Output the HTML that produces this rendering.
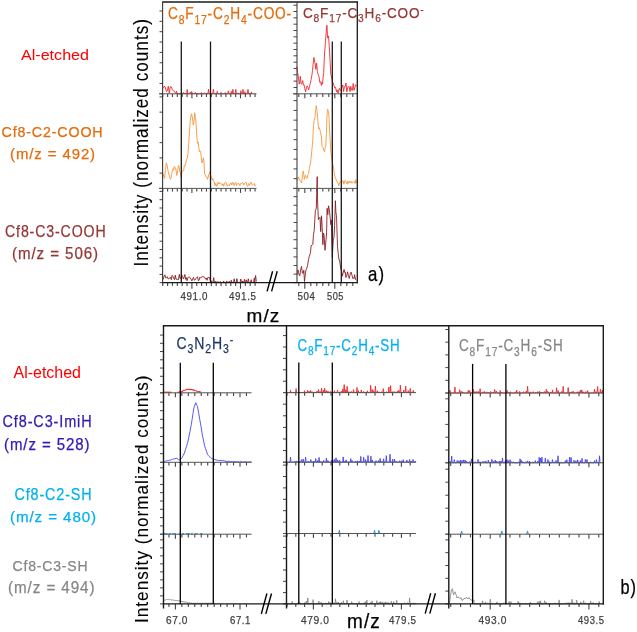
<!DOCTYPE html>
<html><head><meta charset="utf-8"><style>
html,body{margin:0;padding:0;background:#fff;width:637px;height:632px;overflow:hidden}
svg{display:block;font-family:"Liberation Sans",sans-serif;will-change:transform}
</style></head><body>
<svg width="637" height="632" viewBox="0 0 637 632" font-family="Liberation Sans, sans-serif">
<path d="M163.3,88.3 L164.3,86.1 L165.3,87.1 L166.3,91.5 L167.3,90.9 L168.3,86.3 L169.3,93.3 L170.3,86.7 L171.3,86.9 L172.3,89.6 L173.3,90.9 L174.3,91.1 L176.0,93.8 L176.6,91.3 L177.2,93.8 L177.9,93.8 L178.9,93.8 L179.9,93.8 L180.9,93.8 L181.9,93.8 L182.9,93.8 L183.5,92.4 L184.1,93.8 L184.8,93.8 L185.4,92.9 L186.0,93.8 L186.6,93.8 L187.2,89.5 L187.8,93.8 L188.6,93.8 L189.6,93.8 L190.2,92.2 L190.8,93.8 L191.1,93.8 L191.7,91.4 L192.3,93.8 L192.7,93.8 L193.3,93.0 L193.9,93.8 L194.8,93.8 L195.4,92.4 L196.0,93.8 L196.9,93.8 L197.9,93.8 L198.9,93.8 L199.9,93.8 L200.9,93.8 L201.5,92.5 L202.1,93.8 L202.8,93.8 L203.8,93.8 L204.4,92.8 L205.0,93.8 L205.3,93.8 L205.9,92.9 L206.5,93.8 L206.9,93.8 L207.9,93.8 L208.5,89.3 L209.1,93.8 L209.8,93.8 L210.8,93.8 L211.8,93.8 L212.8,93.8 L213.4,89.3 L214.0,93.8 L214.5,93.8 L215.1,93.0 L215.7,93.8 L216.7,93.8 L217.3,91.3 L217.9,93.8 L218.4,93.8 L219.4,93.8 L220.4,93.8 L221.0,92.4 L221.6,93.8 L222.6,93.8 L223.6,93.8 L224.6,93.8 L225.2,92.6 L225.8,93.8 L226.7,93.8 L227.7,93.8 L228.3,90.9 L228.9,93.8 L229.7,93.8 L230.7,93.8 L231.3,91.4 L231.9,93.8 L232.3,93.8 L232.9,89.3 L233.5,93.8 L234.2,93.8 L235.2,93.8 L235.8,89.3 L236.4,93.8 L236.7,93.8 L237.3,92.9 L237.9,93.8 L238.3,93.8 L239.3,93.8 L240.3,93.8 L240.9,90.7 L241.5,93.8 L242.4,93.8 L243.0,89.4 L243.6,93.8 L244.3,93.8 L244.9,91.8 L245.5,93.8 L246.4,93.8 L247.4,93.8 L248.0,89.3 L248.6,93.8 L248.9,93.8 L249.9,93.8 L250.9,93.8 L251.5,91.9 L252.1,93.8" fill="none" stroke="#f0282d" stroke-width="0.9" stroke-linejoin="round"/>
<path d="M163.0,173.5 L163.8,176.9 L164.6,178.4 L165.4,169.5 L166.3,162.8 L167.2,165.5 L168.0,170.7 L168.8,174.1 L169.5,176.0 L170.3,179.3 L171.0,178.7 L171.7,174.4 L172.4,170.5 L173.1,168.6 L173.7,170.3 L174.3,166.3 L175.0,167.5 L175.6,168.0 L176.2,171.0 L176.8,175.5 L177.7,170.5 L178.5,165.4 L179.2,167.3 L179.8,172.0 L180.4,172.5 L181.1,177.2 L181.8,172.0 L182.4,171.7 L183.0,170.4 L183.7,170.7 L184.3,165.2 L185.0,165.8 L185.7,163.0 L186.3,161.0 L186.9,158.3 L187.5,158.1 L188.1,151.8 L188.8,142.6 L189.5,131.3 L190.1,122.7 L190.7,117.0 L191.6,113.8 L192.4,118.0 L193.3,125.1 L194.0,121.7 L194.7,112.7 L195.3,117.3 L195.9,121.3 L196.8,135.7 L197.5,143.3 L198.2,142.1 L198.8,147.6 L199.4,152.0 L200.0,150.9 L200.6,151.9 L201.3,157.6 L202.0,163.0 L202.7,160.8 L203.4,157.8 L204.0,162.2 L204.6,173.8 L205.4,175.0 L206.3,177.0 L206.9,176.8 L207.5,179.4 L208.1,177.3 L208.9,174.5 L209.8,171.8 L210.4,174.5 L211.0,176.3 L211.6,177.8 L212.2,179.9 L212.9,178.7 L213.5,181.3 L214.2,181.6 L215.0,185.7 L215.8,183.3 L216.6,186.3 L217.4,185.0 L218.2,182.2 L219.0,184.0 L219.8,182.7 L220.6,183.4 L221.4,183.7 L222.2,185.5 L223.0,183.8 L223.8,186.2 L224.6,182.8 L225.4,182.1 L226.2,182.6 L227.0,186.2 L227.8,184.9 L228.6,185.0 L229.4,185.9 L230.2,183.6 L231.0,182.8 L231.8,185.0 L232.6,182.5 L233.4,182.8 L234.2,185.8 L235.0,182.9 L235.8,182.4 L236.6,185.5 L237.4,183.8 L238.2,183.5 L239.0,183.7 L239.8,186.0 L240.6,183.4 L241.4,183.6 L242.2,182.7 L243.0,182.8 L243.8,184.9 L244.6,183.2 L245.4,182.5 L246.2,182.4 L247.0,185.7 L247.8,186.3 L248.6,183.5 L249.4,185.4 L250.2,183.9 L251.0,182.1 L251.8,184.7 L252.6,185.3 L253.4,184.3 L254.2,183.4 L255.0,185.9 L255.8,184.7" fill="none" stroke="#f7963c" stroke-width="0.9" stroke-linejoin="round"/>
<path d="M163.3,279.3 L164.1,275.9 L164.9,274.8 L165.7,277.8 L166.5,277.8 L167.3,276.7 L168.1,278.8 L168.9,278.6 L169.7,278.1 L170.5,277.2 L171.3,279.7 L172.1,275.3 L172.9,276.4 L173.7,278.3 L174.5,279.7 L175.3,275.2 L176.1,279.3 L176.9,279.3 L177.7,279.4 L178.5,279.7 L179.3,274.3 L180.1,278.4 L180.9,278.2 L181.7,274.8 L182.5,276.2 L183.3,279.0 L184.1,277.4 L184.9,274.5 L185.5,279.3 L186.3,277.6 L187.1,280.7 L187.9,277.6 L188.7,277.3 L189.5,277.1 L190.3,277.8 L191.1,279.3 L191.9,280.9 L192.7,278.6 L193.5,277.4 L194.3,280.2 L195.1,279.9 L195.9,278.5 L196.7,277.5 L197.5,276.7 L198.3,280.6 L199.1,280.3 L199.9,277.2 L200.7,278.0 L201.5,277.6 L202.3,276.2 L203.1,276.5 L203.9,277.0 L204.7,277.3 L205.5,279.2 L206.3,278.0 L207.1,280.3 L207.9,277.4 L208.7,277.4 L209.5,277.6 L211.0,282.6 L211.7,280.8 L212.4,282.6 L213.0,282.6 L213.7,277.6 L214.4,282.6 L215.1,282.6 L215.8,281.2 L216.5,282.6 L217.3,282.6 L218.0,281.4 L218.7,282.6 L219.6,282.6 L220.3,281.5 L221.0,282.6 L221.9,282.6 L222.9,282.6 L223.6,281.0 L224.3,282.6 L225.1,282.6 L226.1,282.6 L226.8,281.1 L227.5,282.6 L228.5,282.6 L229.2,281.3 L229.9,282.6 L230.6,282.6 L231.3,280.2 L232.0,282.6 L232.5,282.6 L233.5,282.6 L234.2,278.8 L234.9,282.6 L235.2,282.6 L236.2,282.6 L236.9,278.7 L237.6,282.6 L238.1,282.6 L239.1,282.6 L240.1,282.6 L240.8,279.0 L241.5,282.6 L242.0,282.6 L242.7,281.0 L243.4,282.6 L243.8,282.6 L244.5,279.3 L245.2,282.6 L245.6,282.6 L246.3,279.9 L247.0,282.6 L247.6,282.6 L248.3,278.8 L249.0,282.6 L249.5,282.6 L250.5,282.6 L251.2,279.7 L251.9,282.6 L252.6,282.6 L253.6,282.6 L254.3,277.9 L255.0,282.6 L254.5,282.4 L255.6,275.5 L256.3,281.5" fill="none" stroke="#8b1c22" stroke-width="0.9" stroke-linejoin="round"/>
<path d="M296.9,66.4 L297.6,72.6 L298.4,76.6 L299.2,84.1 L299.8,81.7 L300.3,76.3 L301.0,83.4 L301.6,84.3 L302.1,83.0 L302.7,80.6 L303.4,85.0 L304.0,84.5 L304.8,88.3 L305.6,92.0 L306.4,87.8 L307.1,86.0 L307.9,87.6 L308.7,89.9 L309.5,86.3 L310.3,83.5 L311.1,79.4 L311.9,75.2 L312.5,70.5 L313.1,64.2 L313.9,57.5 L314.7,62.1 L315.2,63.9 L315.8,69.3 L316.6,63.1 L317.4,71.6 L318.2,74.7 L319.0,76.7 L319.8,82.4 L320.6,81.6 L321.4,85.5 L322.0,82.2 L322.6,84.1 L323.1,77.0 L323.7,72.5 L324.5,54.0 L325.5,41.6 L326.1,33.1 L326.9,25.2 L327.7,38.1 L328.5,35.9 L329.3,46.9 L330.1,61.2 L330.8,74.3 L331.8,78.4 L332.5,82.1 L333.2,82.7 L334.0,85.6 L334.8,88.0 L335.6,87.4 L336.4,91.7 L337.2,89.7 L338.0,93.2 L338.8,90.0 L339.5,88.2 L340.3,90.5 L341.1,90.9 L342.0,87.1 L342.8,85.0 L343.6,91.5 L344.4,86.7 L345.2,86.7 L346.0,83.0 L346.8,91.9 L347.6,87.8 L348.4,86.0 L349.2,86.8 L350.0,91.6 L350.8,86.4 L351.6,90.1 L352.4,90.3 L353.2,83.5 L354.0,90.3 L354.8,87.8 L355.6,84.8 L356.4,85.2" fill="none" stroke="#f0282d" stroke-width="0.9" stroke-linejoin="round"/>
<path d="M296.9,181.1 L297.6,180.1 L298.4,176.9 L299.2,178.6 L300.0,180.5 L300.8,181.5 L301.6,183.0 L302.4,176.2 L303.2,170.9 L303.8,174.1 L304.3,179.4 L305.0,176.5 L305.6,175.3 L306.4,177.9 L307.1,178.5 L307.9,174.7 L308.7,173.6 L309.5,166.9 L310.3,164.5 L311.1,158.1 L311.9,149.8 L312.7,141.4 L313.5,125.5 L314.2,120.6 L315.0,117.4 L315.6,110.2 L316.3,105.6 L316.9,110.3 L317.4,113.9 L317.9,121.6 L318.5,128.8 L319.1,127.6 L319.8,129.3 L320.6,132.6 L321.4,136.9 L322.1,146.6 L322.9,147.5 L323.7,150.2 L324.5,151.7 L325.1,147.9 L325.8,145.5 L326.4,133.7 L326.9,117.3 L327.4,109.5 L328.0,109.6 L329.0,116.8 L329.6,131.2 L330.1,139.1 L330.9,152.5 L331.6,156.9 L332.4,162.7 L333.2,166.0 L333.9,170.3 L334.6,175.2 L335.3,178.3 L335.9,178.5 L336.6,181.1 L337.2,181.6 L338.0,183.2 L338.8,185.7 L339.6,182.7 L340.3,181.7 L341.5,182.9 L342.3,181.0 L343.1,180.6 L343.9,184.2 L344.7,180.8 L345.5,180.4 L346.3,182.3 L347.1,184.2 L347.9,181.1 L348.7,183.3 L349.5,181.3 L350.3,182.6 L351.1,181.3 L351.9,183.2 L352.7,182.1 L353.5,181.9 L354.3,181.3 L355.1,183.5 L355.9,179.7 L356.7,183.1" fill="none" stroke="#f7963c" stroke-width="0.9" stroke-linejoin="round"/>
<path d="M296.7,274.8 L297.4,272.7 L298.0,269.9 L298.6,272.7 L299.2,275.3 L299.8,275.8 L300.6,270.1 L301.5,266.4 L302.4,273.0 L303.1,273.6 L303.8,270.3 L304.5,281.5 L305.5,272.2 L306.2,269.5 L306.9,267.9 L307.6,265.4 L308.5,259.6 L309.3,256.2 L309.9,254.8 L310.5,252.4 L311.1,245.7 L312.0,245.4 L312.8,244.4 L313.5,234.3 L314.2,230.6 L314.8,219.8 L315.4,210.6 L316.3,208.2 L317.2,176.6 L317.7,205.0 L318.4,219.6 L319.4,217.8 L320.0,217.2 L320.7,231.6 L321.5,215.8 L322.2,227.8 L322.9,244.7 L323.5,233.0 L324.1,235.6 L325.0,250.3 L326.0,239.8 L326.6,232.9 L327.1,208.3 L327.8,214.7 L328.5,205.8 L329.3,209.7 L330.2,217.7 L330.8,224.6 L331.3,220.1 L332.3,257.4 L333.3,239.0 L334.0,237.5 L334.6,225.4 L335.4,200.7 L335.9,212.6 L336.5,215.5 L337.5,246.7 L338.2,253.3 L338.9,259.5 L339.5,259.8 L340.1,264.2 L340.7,268.2 L341.5,270.9 L342.4,276.2 L343.2,272.7 L344.1,269.4 L344.7,272.5 L345.3,272.1 L345.9,277.5 L346.8,275.3 L347.6,271.8 L348.5,276.5 L349.3,278.5 L349.9,275.5 L350.5,273.1 L351.1,272.1 L352.0,275.1 L352.8,278.4 L353.4,277.8 L354.0,278.7 L354.6,274.7 L355.5,279.5 L356.3,280.0" fill="none" stroke="#8b1c22" stroke-width="0.9" stroke-linejoin="round"/>
<line x1="159.50" y1="93.80" x2="163.00" y2="93.80" stroke="#444444" stroke-width="1.0"/>
<line x1="159.50" y1="83.45" x2="163.00" y2="83.45" stroke="#444444" stroke-width="1.0"/>
<line x1="159.50" y1="73.10" x2="163.00" y2="73.10" stroke="#444444" stroke-width="1.0"/>
<line x1="159.50" y1="62.75" x2="163.00" y2="62.75" stroke="#444444" stroke-width="1.0"/>
<line x1="159.50" y1="52.40" x2="163.00" y2="52.40" stroke="#444444" stroke-width="1.0"/>
<line x1="159.50" y1="42.05" x2="163.00" y2="42.05" stroke="#444444" stroke-width="1.0"/>
<line x1="159.50" y1="31.70" x2="163.00" y2="31.70" stroke="#444444" stroke-width="1.0"/>
<line x1="159.50" y1="21.35" x2="163.00" y2="21.35" stroke="#444444" stroke-width="1.0"/>
<line x1="159.50" y1="11.00" x2="163.00" y2="11.00" stroke="#444444" stroke-width="1.0"/>
<line x1="159.50" y1="188.40" x2="163.00" y2="188.40" stroke="#444444" stroke-width="1.0"/>
<line x1="159.50" y1="173.15" x2="163.00" y2="173.15" stroke="#444444" stroke-width="1.0"/>
<line x1="159.50" y1="157.90" x2="163.00" y2="157.90" stroke="#444444" stroke-width="1.0"/>
<line x1="159.50" y1="142.65" x2="163.00" y2="142.65" stroke="#444444" stroke-width="1.0"/>
<line x1="159.50" y1="127.40" x2="163.00" y2="127.40" stroke="#444444" stroke-width="1.0"/>
<line x1="159.50" y1="112.15" x2="163.00" y2="112.15" stroke="#444444" stroke-width="1.0"/>
<line x1="159.50" y1="96.90" x2="163.00" y2="96.90" stroke="#444444" stroke-width="1.0"/>
<line x1="159.50" y1="282.70" x2="163.00" y2="282.70" stroke="#444444" stroke-width="1.0"/>
<line x1="159.50" y1="274.40" x2="163.00" y2="274.40" stroke="#444444" stroke-width="1.0"/>
<line x1="159.50" y1="266.10" x2="163.00" y2="266.10" stroke="#444444" stroke-width="1.0"/>
<line x1="159.50" y1="257.80" x2="163.00" y2="257.80" stroke="#444444" stroke-width="1.0"/>
<line x1="159.50" y1="249.50" x2="163.00" y2="249.50" stroke="#444444" stroke-width="1.0"/>
<line x1="159.50" y1="241.20" x2="163.00" y2="241.20" stroke="#444444" stroke-width="1.0"/>
<line x1="159.50" y1="232.90" x2="163.00" y2="232.90" stroke="#444444" stroke-width="1.0"/>
<line x1="159.50" y1="224.60" x2="163.00" y2="224.60" stroke="#444444" stroke-width="1.0"/>
<line x1="159.50" y1="216.30" x2="163.00" y2="216.30" stroke="#444444" stroke-width="1.0"/>
<line x1="159.50" y1="208.00" x2="163.00" y2="208.00" stroke="#444444" stroke-width="1.0"/>
<line x1="159.50" y1="199.70" x2="163.00" y2="199.70" stroke="#444444" stroke-width="1.0"/>
<line x1="159.50" y1="191.40" x2="163.00" y2="191.40" stroke="#444444" stroke-width="1.0"/>
<line x1="293.50" y1="93.80" x2="297.00" y2="93.80" stroke="#444444" stroke-width="1.0"/>
<line x1="293.50" y1="87.47" x2="297.00" y2="87.47" stroke="#444444" stroke-width="1.0"/>
<line x1="293.50" y1="81.14" x2="297.00" y2="81.14" stroke="#444444" stroke-width="1.0"/>
<line x1="293.50" y1="74.81" x2="297.00" y2="74.81" stroke="#444444" stroke-width="1.0"/>
<line x1="293.50" y1="68.48" x2="297.00" y2="68.48" stroke="#444444" stroke-width="1.0"/>
<line x1="293.50" y1="62.15" x2="297.00" y2="62.15" stroke="#444444" stroke-width="1.0"/>
<line x1="293.50" y1="55.82" x2="297.00" y2="55.82" stroke="#444444" stroke-width="1.0"/>
<line x1="293.50" y1="49.49" x2="297.00" y2="49.49" stroke="#444444" stroke-width="1.0"/>
<line x1="293.50" y1="43.16" x2="297.00" y2="43.16" stroke="#444444" stroke-width="1.0"/>
<line x1="293.50" y1="36.83" x2="297.00" y2="36.83" stroke="#444444" stroke-width="1.0"/>
<line x1="293.50" y1="30.50" x2="297.00" y2="30.50" stroke="#444444" stroke-width="1.0"/>
<line x1="293.50" y1="24.17" x2="297.00" y2="24.17" stroke="#444444" stroke-width="1.0"/>
<line x1="293.50" y1="17.84" x2="297.00" y2="17.84" stroke="#444444" stroke-width="1.0"/>
<line x1="293.50" y1="11.51" x2="297.00" y2="11.51" stroke="#444444" stroke-width="1.0"/>
<line x1="293.50" y1="5.18" x2="297.00" y2="5.18" stroke="#444444" stroke-width="1.0"/>
<line x1="293.50" y1="188.40" x2="297.00" y2="188.40" stroke="#444444" stroke-width="1.0"/>
<line x1="293.50" y1="178.65" x2="297.00" y2="178.65" stroke="#444444" stroke-width="1.0"/>
<line x1="293.50" y1="168.90" x2="297.00" y2="168.90" stroke="#444444" stroke-width="1.0"/>
<line x1="293.50" y1="159.15" x2="297.00" y2="159.15" stroke="#444444" stroke-width="1.0"/>
<line x1="293.50" y1="149.40" x2="297.00" y2="149.40" stroke="#444444" stroke-width="1.0"/>
<line x1="293.50" y1="139.65" x2="297.00" y2="139.65" stroke="#444444" stroke-width="1.0"/>
<line x1="293.50" y1="129.90" x2="297.00" y2="129.90" stroke="#444444" stroke-width="1.0"/>
<line x1="293.50" y1="120.15" x2="297.00" y2="120.15" stroke="#444444" stroke-width="1.0"/>
<line x1="293.50" y1="110.40" x2="297.00" y2="110.40" stroke="#444444" stroke-width="1.0"/>
<line x1="293.50" y1="100.65" x2="297.00" y2="100.65" stroke="#444444" stroke-width="1.0"/>
<line x1="293.50" y1="282.70" x2="297.00" y2="282.70" stroke="#444444" stroke-width="1.0"/>
<line x1="293.50" y1="274.10" x2="297.00" y2="274.10" stroke="#444444" stroke-width="1.0"/>
<line x1="293.50" y1="265.50" x2="297.00" y2="265.50" stroke="#444444" stroke-width="1.0"/>
<line x1="293.50" y1="256.90" x2="297.00" y2="256.90" stroke="#444444" stroke-width="1.0"/>
<line x1="293.50" y1="248.30" x2="297.00" y2="248.30" stroke="#444444" stroke-width="1.0"/>
<line x1="293.50" y1="239.70" x2="297.00" y2="239.70" stroke="#444444" stroke-width="1.0"/>
<line x1="293.50" y1="231.10" x2="297.00" y2="231.10" stroke="#444444" stroke-width="1.0"/>
<line x1="293.50" y1="222.50" x2="297.00" y2="222.50" stroke="#444444" stroke-width="1.0"/>
<line x1="293.50" y1="213.90" x2="297.00" y2="213.90" stroke="#444444" stroke-width="1.0"/>
<line x1="293.50" y1="205.30" x2="297.00" y2="205.30" stroke="#444444" stroke-width="1.0"/>
<line x1="293.50" y1="196.70" x2="297.00" y2="196.70" stroke="#444444" stroke-width="1.0"/>
<line x1="162.74" y1="93.80" x2="162.74" y2="97.00" stroke="#444444" stroke-width="1.1"/>
<line x1="167.60" y1="93.80" x2="167.60" y2="97.00" stroke="#444444" stroke-width="1.1"/>
<line x1="172.46" y1="93.80" x2="172.46" y2="97.00" stroke="#444444" stroke-width="1.1"/>
<line x1="177.32" y1="93.80" x2="177.32" y2="97.00" stroke="#444444" stroke-width="1.1"/>
<line x1="182.18" y1="93.80" x2="182.18" y2="97.00" stroke="#444444" stroke-width="1.1"/>
<line x1="187.04" y1="93.80" x2="187.04" y2="97.00" stroke="#444444" stroke-width="1.1"/>
<line x1="191.90" y1="93.80" x2="191.90" y2="98.30" stroke="#444444" stroke-width="1.1"/>
<line x1="196.76" y1="93.80" x2="196.76" y2="97.00" stroke="#444444" stroke-width="1.1"/>
<line x1="201.62" y1="93.80" x2="201.62" y2="97.00" stroke="#444444" stroke-width="1.1"/>
<line x1="206.48" y1="93.80" x2="206.48" y2="97.00" stroke="#444444" stroke-width="1.1"/>
<line x1="211.34" y1="93.80" x2="211.34" y2="97.00" stroke="#444444" stroke-width="1.1"/>
<line x1="216.20" y1="93.80" x2="216.20" y2="97.00" stroke="#444444" stroke-width="1.1"/>
<line x1="221.06" y1="93.80" x2="221.06" y2="97.00" stroke="#444444" stroke-width="1.1"/>
<line x1="225.92" y1="93.80" x2="225.92" y2="97.00" stroke="#444444" stroke-width="1.1"/>
<line x1="230.78" y1="93.80" x2="230.78" y2="97.00" stroke="#444444" stroke-width="1.1"/>
<line x1="235.64" y1="93.80" x2="235.64" y2="97.00" stroke="#444444" stroke-width="1.1"/>
<line x1="240.50" y1="93.80" x2="240.50" y2="98.30" stroke="#444444" stroke-width="1.1"/>
<line x1="245.36" y1="93.80" x2="245.36" y2="97.00" stroke="#444444" stroke-width="1.1"/>
<line x1="250.22" y1="93.80" x2="250.22" y2="97.00" stroke="#444444" stroke-width="1.1"/>
<line x1="255.08" y1="93.80" x2="255.08" y2="97.00" stroke="#444444" stroke-width="1.1"/>
<line x1="298.80" y1="93.80" x2="298.80" y2="97.00" stroke="#444444" stroke-width="1.1"/>
<line x1="304.80" y1="93.80" x2="304.80" y2="98.30" stroke="#444444" stroke-width="1.1"/>
<line x1="310.80" y1="93.80" x2="310.80" y2="97.00" stroke="#444444" stroke-width="1.1"/>
<line x1="316.80" y1="93.80" x2="316.80" y2="97.00" stroke="#444444" stroke-width="1.1"/>
<line x1="322.80" y1="93.80" x2="322.80" y2="97.00" stroke="#444444" stroke-width="1.1"/>
<line x1="328.80" y1="93.80" x2="328.80" y2="97.00" stroke="#444444" stroke-width="1.1"/>
<line x1="334.80" y1="93.80" x2="334.80" y2="98.30" stroke="#444444" stroke-width="1.1"/>
<line x1="340.80" y1="93.80" x2="340.80" y2="97.00" stroke="#444444" stroke-width="1.1"/>
<line x1="346.80" y1="93.80" x2="346.80" y2="97.00" stroke="#444444" stroke-width="1.1"/>
<line x1="352.80" y1="93.80" x2="352.80" y2="97.00" stroke="#444444" stroke-width="1.1"/>
<line x1="162.74" y1="188.40" x2="162.74" y2="191.60" stroke="#444444" stroke-width="1.1"/>
<line x1="167.60" y1="188.40" x2="167.60" y2="191.60" stroke="#444444" stroke-width="1.1"/>
<line x1="172.46" y1="188.40" x2="172.46" y2="191.60" stroke="#444444" stroke-width="1.1"/>
<line x1="177.32" y1="188.40" x2="177.32" y2="191.60" stroke="#444444" stroke-width="1.1"/>
<line x1="182.18" y1="188.40" x2="182.18" y2="191.60" stroke="#444444" stroke-width="1.1"/>
<line x1="187.04" y1="188.40" x2="187.04" y2="191.60" stroke="#444444" stroke-width="1.1"/>
<line x1="191.90" y1="188.40" x2="191.90" y2="192.90" stroke="#444444" stroke-width="1.1"/>
<line x1="196.76" y1="188.40" x2="196.76" y2="191.60" stroke="#444444" stroke-width="1.1"/>
<line x1="201.62" y1="188.40" x2="201.62" y2="191.60" stroke="#444444" stroke-width="1.1"/>
<line x1="206.48" y1="188.40" x2="206.48" y2="191.60" stroke="#444444" stroke-width="1.1"/>
<line x1="211.34" y1="188.40" x2="211.34" y2="191.60" stroke="#444444" stroke-width="1.1"/>
<line x1="216.20" y1="188.40" x2="216.20" y2="191.60" stroke="#444444" stroke-width="1.1"/>
<line x1="221.06" y1="188.40" x2="221.06" y2="191.60" stroke="#444444" stroke-width="1.1"/>
<line x1="225.92" y1="188.40" x2="225.92" y2="191.60" stroke="#444444" stroke-width="1.1"/>
<line x1="230.78" y1="188.40" x2="230.78" y2="191.60" stroke="#444444" stroke-width="1.1"/>
<line x1="235.64" y1="188.40" x2="235.64" y2="191.60" stroke="#444444" stroke-width="1.1"/>
<line x1="240.50" y1="188.40" x2="240.50" y2="192.90" stroke="#444444" stroke-width="1.1"/>
<line x1="245.36" y1="188.40" x2="245.36" y2="191.60" stroke="#444444" stroke-width="1.1"/>
<line x1="250.22" y1="188.40" x2="250.22" y2="191.60" stroke="#444444" stroke-width="1.1"/>
<line x1="255.08" y1="188.40" x2="255.08" y2="191.60" stroke="#444444" stroke-width="1.1"/>
<line x1="298.80" y1="188.40" x2="298.80" y2="191.60" stroke="#444444" stroke-width="1.1"/>
<line x1="304.80" y1="188.40" x2="304.80" y2="192.90" stroke="#444444" stroke-width="1.1"/>
<line x1="310.80" y1="188.40" x2="310.80" y2="191.60" stroke="#444444" stroke-width="1.1"/>
<line x1="316.80" y1="188.40" x2="316.80" y2="191.60" stroke="#444444" stroke-width="1.1"/>
<line x1="322.80" y1="188.40" x2="322.80" y2="191.60" stroke="#444444" stroke-width="1.1"/>
<line x1="328.80" y1="188.40" x2="328.80" y2="191.60" stroke="#444444" stroke-width="1.1"/>
<line x1="334.80" y1="188.40" x2="334.80" y2="192.90" stroke="#444444" stroke-width="1.1"/>
<line x1="340.80" y1="188.40" x2="340.80" y2="191.60" stroke="#444444" stroke-width="1.1"/>
<line x1="346.80" y1="188.40" x2="346.80" y2="191.60" stroke="#444444" stroke-width="1.1"/>
<line x1="352.80" y1="188.40" x2="352.80" y2="191.60" stroke="#444444" stroke-width="1.1"/>
<line x1="162.74" y1="282.70" x2="162.74" y2="285.90" stroke="#444444" stroke-width="1.1"/>
<line x1="167.60" y1="282.70" x2="167.60" y2="285.90" stroke="#444444" stroke-width="1.1"/>
<line x1="172.46" y1="282.70" x2="172.46" y2="285.90" stroke="#444444" stroke-width="1.1"/>
<line x1="177.32" y1="282.70" x2="177.32" y2="285.90" stroke="#444444" stroke-width="1.1"/>
<line x1="182.18" y1="282.70" x2="182.18" y2="285.90" stroke="#444444" stroke-width="1.1"/>
<line x1="187.04" y1="282.70" x2="187.04" y2="285.90" stroke="#444444" stroke-width="1.1"/>
<line x1="191.90" y1="282.70" x2="191.90" y2="288.70" stroke="#444444" stroke-width="1.1"/>
<line x1="196.76" y1="282.70" x2="196.76" y2="285.90" stroke="#444444" stroke-width="1.1"/>
<line x1="201.62" y1="282.70" x2="201.62" y2="285.90" stroke="#444444" stroke-width="1.1"/>
<line x1="206.48" y1="282.70" x2="206.48" y2="285.90" stroke="#444444" stroke-width="1.1"/>
<line x1="211.34" y1="282.70" x2="211.34" y2="285.90" stroke="#444444" stroke-width="1.1"/>
<line x1="216.20" y1="282.70" x2="216.20" y2="285.90" stroke="#444444" stroke-width="1.1"/>
<line x1="221.06" y1="282.70" x2="221.06" y2="285.90" stroke="#444444" stroke-width="1.1"/>
<line x1="225.92" y1="282.70" x2="225.92" y2="285.90" stroke="#444444" stroke-width="1.1"/>
<line x1="230.78" y1="282.70" x2="230.78" y2="285.90" stroke="#444444" stroke-width="1.1"/>
<line x1="235.64" y1="282.70" x2="235.64" y2="285.90" stroke="#444444" stroke-width="1.1"/>
<line x1="240.50" y1="282.70" x2="240.50" y2="288.70" stroke="#444444" stroke-width="1.1"/>
<line x1="245.36" y1="282.70" x2="245.36" y2="285.90" stroke="#444444" stroke-width="1.1"/>
<line x1="250.22" y1="282.70" x2="250.22" y2="285.90" stroke="#444444" stroke-width="1.1"/>
<line x1="255.08" y1="282.70" x2="255.08" y2="285.90" stroke="#444444" stroke-width="1.1"/>
<line x1="298.80" y1="282.70" x2="298.80" y2="285.90" stroke="#444444" stroke-width="1.1"/>
<line x1="304.80" y1="282.70" x2="304.80" y2="288.70" stroke="#444444" stroke-width="1.1"/>
<line x1="310.80" y1="282.70" x2="310.80" y2="285.90" stroke="#444444" stroke-width="1.1"/>
<line x1="316.80" y1="282.70" x2="316.80" y2="285.90" stroke="#444444" stroke-width="1.1"/>
<line x1="322.80" y1="282.70" x2="322.80" y2="285.90" stroke="#444444" stroke-width="1.1"/>
<line x1="328.80" y1="282.70" x2="328.80" y2="285.90" stroke="#444444" stroke-width="1.1"/>
<line x1="334.80" y1="282.70" x2="334.80" y2="288.70" stroke="#444444" stroke-width="1.1"/>
<line x1="340.80" y1="282.70" x2="340.80" y2="285.90" stroke="#444444" stroke-width="1.1"/>
<line x1="346.80" y1="282.70" x2="346.80" y2="285.90" stroke="#444444" stroke-width="1.1"/>
<line x1="352.80" y1="282.70" x2="352.80" y2="285.90" stroke="#444444" stroke-width="1.1"/>
<line x1="159.00" y1="93.80" x2="256.50" y2="93.80" stroke="#555555" stroke-width="1.0"/>
<line x1="293.00" y1="93.80" x2="357.30" y2="93.80" stroke="#555555" stroke-width="1.0"/>
<line x1="159.00" y1="188.40" x2="256.50" y2="188.40" stroke="#555555" stroke-width="1.0"/>
<line x1="293.00" y1="188.40" x2="357.30" y2="188.40" stroke="#555555" stroke-width="1.0"/>
<line x1="162.40" y1="2.00" x2="358.00" y2="2.00" stroke="#1a1a1a" stroke-width="1.3"/>
<line x1="162.60" y1="1.40" x2="162.60" y2="283.30" stroke="#383838" stroke-width="1.1"/>
<line x1="297.00" y1="2.00" x2="297.00" y2="282.70" stroke="#404040" stroke-width="1.1"/>
<line x1="357.30" y1="1.40" x2="357.30" y2="283.30" stroke="#1a1a1a" stroke-width="1.3"/>
<line x1="162.40" y1="282.70" x2="357.90" y2="282.70" stroke="#1a1a1a" stroke-width="1.3"/>
<line x1="181.30" y1="41.50" x2="181.30" y2="282.70" stroke="#1a1a1a" stroke-width="1.3"/>
<line x1="210.50" y1="41.50" x2="210.50" y2="282.70" stroke="#1a1a1a" stroke-width="1.3"/>
<line x1="332.30" y1="41.50" x2="332.30" y2="282.70" stroke="#1a1a1a" stroke-width="1.3"/>
<line x1="341.30" y1="41.50" x2="341.30" y2="282.70" stroke="#1a1a1a" stroke-width="1.3"/>
<line x1="267.10" y1="291.40" x2="272.60" y2="271.30" stroke="#000" stroke-width="1.4"/>
<line x1="271.60" y1="291.40" x2="277.20" y2="271.30" stroke="#000" stroke-width="1.4"/>
<path d="M163.5,392.2 L171.4,392.2" fill="none" stroke="#f0282d" stroke-width="1.1" stroke-linejoin="round"/>
<path d="M177.5,392.2 L178.6,392.2 L179.8,391.8 L180.9,391.4 L182.0,391.7 L183.0,390.8 L184.0,390.2 L185.0,390.1 L186.0,389.8 L187.0,389.3 L188.0,389.2 L189.0,389.6 L190.0,389.3 L191.0,389.6 L192.0,389.5 L193.0,390.1 L194.0,389.9 L195.0,390.5 L196.0,390.7 L197.0,391.4 L198.0,391.8 L199.0,391.6 L200.0,391.9 L201.0,392.2" fill="none" stroke="#f0282d" stroke-width="1.1" stroke-linejoin="round"/>
<path d="M163.5,461.9 L164.5,461.5 L165.6,461.0 L166.6,460.9 L167.5,460.6 L168.4,460.6 L169.3,460.1 L170.2,460.2 L171.1,459.8 L171.9,459.6 L172.8,459.1 L173.7,459.0 L174.9,458.8 L176.1,458.3 L177.3,458.6 L178.5,459.6 L179.4,459.6 L180.4,459.4 L181.2,458.8 L182.0,457.6 L183.2,455.3 L184.4,453.1 L185.4,449.7 L186.5,446.4 L187.5,443.3 L188.8,437.2 L190.0,431.4 L191.1,425.5 L192.1,419.5 L193.0,413.5 L193.9,407.8 L194.9,405.0 L195.8,402.7 L196.7,404.9 L197.5,406.5 L198.7,413.2 L199.8,419.7 L201.0,426.5 L202.2,433.7 L203.4,440.1 L204.6,445.8 L205.5,448.7 L206.5,451.1 L207.4,454.2 L208.4,455.5 L209.5,456.7 L210.5,457.4 L211.4,458.2 L212.3,458.6 L213.2,459.3 L214.1,459.3 L215.0,459.6 L216.0,460.1 L216.9,460.1 L217.9,460.3 L218.8,460.8 L219.8,460.5 L220.9,460.4 L221.9,460.7 L222.9,460.7 L223.9,460.7 L225.0,461.1 L226.0,461.5 L226.9,461.3 L227.9,461.4 L228.8,461.2 L229.8,461.4 L230.8,461.6 L231.7,461.6 L232.7,461.7 L233.6,461.6 L234.6,461.5 L235.5,461.7 L236.5,461.7 L237.5,461.5 L238.5,461.8 L239.5,462.0 L240.5,461.6 L241.5,461.8 L242.5,462.0 L243.6,461.8 L244.6,461.7 L245.6,461.8 L246.6,461.9 L247.6,462.0 L248.6,462.0 L249.6,461.7 L250.6,462.0 L251.6,462.0" fill="none" stroke="#4545f2" stroke-width="0.9" stroke-linejoin="round"/>
<path d="M163.8,533.7 L167.6,533.7" fill="none" stroke="#1a9ae0" stroke-width="1.1" stroke-linejoin="round"/>
<path d="M168.8,533.7 L170.9,533.7" fill="none" stroke="#1a9ae0" stroke-width="1.1" stroke-linejoin="round"/>
<path d="M172.3,533.7 L175.9,533.7" fill="none" stroke="#1a9ae0" stroke-width="1.1" stroke-linejoin="round"/>
<path d="M178.7,533.7 L180.3,533.7" fill="none" stroke="#1a9ae0" stroke-width="1.1" stroke-linejoin="round"/>
<path d="M182.0,533.7 L184.0,533.7" fill="none" stroke="#1a9ae0" stroke-width="1.1" stroke-linejoin="round"/>
<path d="M185.9,533.7 L189.7,533.7" fill="none" stroke="#1a9ae0" stroke-width="1.1" stroke-linejoin="round"/>
<path d="M190.9,533.7 L192.8,533.7" fill="none" stroke="#1a9ae0" stroke-width="1.1" stroke-linejoin="round"/>
<path d="M194.8,533.7 L197.6,533.7" fill="none" stroke="#1a9ae0" stroke-width="1.1" stroke-linejoin="round"/>
<path d="M200.1,533.7 L202.7,533.7" fill="none" stroke="#1a9ae0" stroke-width="1.1" stroke-linejoin="round"/>
<path d="M163.7,599.9 L164.7,600.1 L165.7,599.9 L166.7,599.3 L167.7,599.6 L168.6,599.4 L169.6,599.8 L170.5,599.5 L171.5,600.1 L172.4,599.8 L173.3,600.1 L174.3,600.4 L175.2,600.5 L176.2,600.4 L177.1,600.6 L178.1,600.8 L179.1,600.8 L180.1,601.1 L181.0,601.2 L182.0,601.5 L183.0,601.6 L184.0,602.0 L185.0,602.0 L185.9,602.0 L186.9,602.4 L187.9,602.9 L188.9,602.8 L189.9,602.9 L190.8,603.2 L191.8,603.1 L192.8,603.4 L193.7,603.4 L194.7,603.3 L195.7,603.4 L196.7,603.3 L197.7,603.2 L198.8,603.4 L199.8,603.4 L200.8,603.4 L201.8,603.2 L202.8,603.4 L203.8,603.4 L204.8,603.2 L205.9,603.4 L206.9,603.4 L207.9,603.2 L208.9,603.4 L209.9,603.2 L210.9,603.2 L212.0,603.3 L213.0,603.4 L214.0,603.1 L215.0,603.4" fill="none" stroke="#8a8a8a" stroke-width="0.9" stroke-linejoin="round"/>
<path d="M288.0,392.6 L289.0,392.6 L290.0,392.6 L290.5,390.2 L291.0,392.6 L291.6,392.6 L292.6,392.6 L293.6,392.6 L294.6,392.6 L295.6,392.6 L296.1,388.6 L296.6,392.6 L297.2,392.6 L298.2,392.6 L299.2,392.6 L304.0,392.6 L304.5,390.7 L305.0,392.6 L306.0,392.6 L307.0,392.6 L307.5,390.4 L308.0,392.6 L308.5,392.6 L309.0,391.0 L309.5,392.6 L310.2,392.6 L310.7,390.5 L311.2,392.6 L311.8,392.6 L312.3,391.7 L312.8,392.6 L313.6,392.6 L314.6,392.6 L315.6,392.6 L316.6,392.6 L317.1,391.0 L317.6,392.6 L318.1,392.6 L318.6,389.5 L319.1,392.6 L319.7,392.6 L320.2,391.5 L320.7,392.6 L321.1,392.6 L321.6,388.1 L322.1,392.6 L322.9,392.6 L323.4,390.1 L323.9,392.6 L324.2,392.6 L324.7,388.3 L325.2,392.6 L325.7,392.6 L326.2,390.6 L326.7,392.6 L327.4,392.6 L327.9,391.0 L328.4,392.6 L328.8,392.6 L329.8,392.6 L330.3,391.3 L330.8,392.6 L333.0,392.6 L334.0,392.6 L334.5,390.6 L335.0,392.6 L336.0,392.6 L337.0,392.6 L337.5,390.2 L338.0,392.6 L338.7,392.6 L339.7,392.6 L340.2,391.7 L340.7,392.6 L341.0,392.6 L341.5,391.3 L342.0,392.6 L342.4,392.6 L342.9,388.8 L343.4,392.6 L343.7,392.6 L344.2,384.6 L344.7,392.6 L345.3,392.6 L345.8,389.7 L346.3,392.6 L346.6,392.6 L347.1,386.4 L347.6,392.6 L348.0,392.6 L348.5,391.7 L349.0,392.6 L349.4,392.6 L349.9,391.7 L350.4,392.6 L351.2,392.6 L351.7,391.4 L352.2,392.6 L353.1,392.6 L353.6,389.6 L354.1,392.6 L354.5,392.6 L355.5,392.6 L356.5,392.6 L357.0,387.4 L357.5,392.6 L357.9,392.6 L358.4,390.6 L358.9,392.6 L359.8,392.6 L360.8,392.6 L361.3,390.0 L361.8,392.6 L362.1,392.6 L363.1,392.6 L363.6,391.4 L364.1,392.6 L364.9,392.6 L365.9,392.6 L366.9,392.6 L367.4,390.8 L367.9,392.6 L368.2,392.6 L369.2,392.6 L370.2,392.6 L370.7,385.4 L371.2,392.6 L371.8,392.6 L372.3,389.5 L372.8,392.6 L373.1,392.6 L373.6,390.7 L374.1,392.6 L374.9,392.6 L375.4,386.0 L375.9,392.6 L376.9,392.6 L377.4,390.7 L377.9,392.6 L378.8,392.6 L379.3,391.8 L379.8,392.6 L380.1,392.6 L381.1,392.6 L381.6,391.7 L382.1,392.6 L382.8,392.6 L383.3,388.6 L383.8,392.6 L384.8,392.6 L385.8,392.6 L386.3,391.7 L386.8,392.6 L387.4,392.6 L388.4,392.6 L388.9,387.0 L389.4,392.6 L390.1,392.6 L390.6,385.6 L391.1,392.6 L391.4,392.6 L392.4,392.6 L392.9,391.5 L393.4,392.6 L394.4,392.6 L394.9,391.5 L395.4,392.6 L396.0,392.6 L397.0,392.6 L397.5,391.0 L398.0,392.6 L398.3,392.6 L398.8,390.3 L399.3,392.6 L399.9,392.6 L400.4,385.1 L400.9,392.6 L401.3,392.6 L402.3,392.6 L403.3,392.6 L403.8,390.1 L404.3,392.6 L405.2,392.6 L405.7,386.0 L406.2,392.6 L406.7,392.6 L407.7,392.6 L408.2,390.6 L408.7,392.6 L409.7,392.6 L410.2,388.4 L410.7,392.6 L411.4,392.6 L411.9,391.8 L412.4,392.6 L412.8,392.6 L413.3,390.3 L413.8,392.6 L414.6,392.6" fill="none" stroke="#f0282d" stroke-width="0.9" stroke-linejoin="round"/>
<path d="M287.0,462.2 L288.0,462.2 L289.0,462.2 L290.0,462.2 L290.5,457.0 L291.0,462.2 L291.4,462.2 L292.4,462.2 L293.4,462.2 L294.4,462.2 L294.9,461.2 L295.4,462.2 L296.1,462.2 L296.6,460.9 L297.1,462.2 L297.5,462.2 L298.5,462.2 L299.5,462.2 L300.0,461.2 L300.5,462.2 L301.0,462.2 L301.5,459.6 L302.0,462.2 L302.7,462.2 L303.2,459.0 L303.7,462.2 L304.1,462.2 L305.1,462.2 L305.6,457.0 L306.1,462.2 L306.8,462.2 L307.8,462.2 L308.3,461.0 L308.8,462.2 L309.3,462.2 L310.3,462.2 L310.8,459.5 L311.3,462.2 L312.2,462.2 L313.2,462.2 L313.7,461.0 L314.2,462.2 L315.2,462.2 L315.7,458.5 L316.2,462.2 L317.2,462.2 L317.7,460.5 L318.2,462.2 L318.6,462.2 L319.1,457.4 L319.6,462.2 L320.3,462.2 L320.8,461.3 L321.3,462.2 L322.2,462.2 L323.2,462.2 L323.7,460.4 L324.2,462.2 L324.9,462.2 L325.9,462.2 L326.4,458.0 L326.9,462.2 L327.4,462.2 L327.9,460.5 L328.4,462.2 L329.1,462.2 L330.1,462.2 L331.1,462.2 L331.6,460.3 L332.1,462.2 L332.7,462.2 L333.7,462.2 L334.2,459.4 L334.7,462.2 L335.5,462.2 L336.0,457.8 L336.5,462.2 L337.2,462.2 L337.7,459.9 L338.2,462.2 L339.1,462.2 L339.6,460.3 L340.1,462.2 L340.7,462.2 L341.7,462.2 L342.7,462.2 L343.2,456.9 L343.7,462.2 L344.0,462.2 L344.5,461.1 L345.0,462.2 L345.7,462.2 L346.2,459.9 L346.7,462.2 L347.2,462.2 L348.2,462.2 L349.2,462.2 L350.2,462.2 L350.7,458.6 L351.2,462.2 L351.5,462.2 L352.0,460.4 L352.5,462.2 L352.9,462.2 L353.9,462.2 L354.9,462.2 L355.4,461.2 L355.9,462.2 L356.8,462.2 L357.3,460.8 L357.8,462.2 L358.7,462.2 L359.2,461.1 L359.7,462.2 L360.3,462.2 L360.8,456.4 L361.3,462.2 L362.2,462.2 L363.2,462.2 L363.7,457.2 L364.2,462.2 L365.1,462.2 L365.6,459.6 L366.1,462.2 L366.5,462.2 L367.5,462.2 L368.0,455.5 L368.5,462.2 L369.4,462.2 L370.4,462.2 L370.9,456.1 L371.4,462.2 L371.8,462.2 L372.3,460.0 L372.8,462.2 L373.5,462.2 L374.5,462.2 L375.5,462.2 L376.0,460.6 L376.5,462.2 L377.1,462.2 L378.1,462.2 L378.6,460.5 L379.1,462.2 L379.6,462.2 L380.1,458.4 L380.6,462.2 L381.5,462.2 L382.0,461.3 L382.5,462.2 L383.1,462.2 L383.6,458.8 L384.1,462.2 L384.8,462.2 L385.8,462.2 L386.3,455.7 L386.8,462.2 L387.5,462.2 L388.5,462.2 L389.5,462.2 L390.0,454.2 L390.5,462.2 L391.2,462.2 L392.2,462.2 L392.7,459.2 L393.2,462.2 L394.1,462.2 L394.6,459.2 L395.1,462.2 L395.8,462.2 L396.3,461.4 L396.8,462.2 L397.1,462.2 L398.1,462.2 L399.1,462.2 L399.6,460.7 L400.1,462.2 L401.0,462.2 L401.5,460.8 L402.0,462.2 L402.7,462.2 L403.2,459.7 L403.7,462.2 L404.4,462.2 L405.4,462.2 L406.4,462.2 L406.9,460.1 L407.4,462.2 L408.1,462.2 L409.1,462.2 L409.6,459.4 L410.1,462.2 L410.6,462.2 L411.1,461.0 L411.6,462.2 L412.5,462.2 L413.0,459.4 L413.5,462.2 L413.9,462.2 L414.9,462.2 L415.4,461.0 L415.9,462.2" fill="none" stroke="#4545f2" stroke-width="0.9" stroke-linejoin="round"/>
<path d="M338.5,533.5 L339.3,530.3 L340.1,533.5" fill="none" stroke="#1a9ae0" stroke-width="1.0" stroke-linejoin="round"/>
<path d="M373.7,533.5 L374.5,530.3 L375.3,533.5" fill="none" stroke="#1a9ae0" stroke-width="1.0" stroke-linejoin="round"/>
<path d="M378.1,533.5 L378.9,530.3 L379.7,533.5" fill="none" stroke="#1a9ae0" stroke-width="1.0" stroke-linejoin="round"/>
<path d="M287.0,603.9 L288.0,603.9 L288.5,603.1 L289.0,603.9 L289.6,603.9 L290.6,603.9 L291.6,603.9 L292.1,601.4 L292.6,603.9 L293.5,603.9 L294.5,603.9 L295.5,603.9 L296.5,603.9 L297.5,603.9 L298.0,602.6 L298.5,603.9 L299.3,603.9 L299.8,602.5 L300.3,603.9 L301.3,603.9 L302.3,603.9 L303.3,603.9 L304.3,603.9 L304.8,602.5 L305.3,603.9 L305.8,603.9 L306.3,601.0 L306.8,603.9 L307.3,603.9 L307.8,597.9 L308.3,603.9 L309.0,603.9 L310.0,603.9 L311.0,603.9 L311.5,602.9 L312.0,603.9 L312.6,603.9 L313.1,599.6 L313.6,603.9 L314.5,603.9 L315.5,603.9 L316.5,603.9 L317.0,602.9 L317.5,603.9 L318.4,603.9 L318.9,601.1 L319.4,603.9 L319.7,603.9 L320.7,603.9 L321.2,602.1 L321.7,603.9 L322.4,603.9 L323.4,603.9 L324.4,603.9 L325.4,603.9 L325.9,602.8 L326.4,603.9 L327.2,603.9 L328.2,603.9 L328.7,601.5 L329.2,603.9 L329.6,603.9 L330.1,602.3 L330.6,603.9 L331.4,603.9 L332.4,603.9 L333.4,603.9 L333.9,602.7 L334.4,603.9 L335.0,603.9 L335.5,598.8 L336.0,603.9 L336.6,603.9 L337.1,602.1 L337.6,603.9 L338.0,603.9 L338.5,602.3 L339.0,603.9 L339.9,603.9 L340.9,603.9 L341.4,602.3 L341.9,603.9 L342.9,603.9 L343.4,600.7 L343.9,603.9 L344.5,603.9 L345.5,603.9 L346.5,603.9 L347.0,600.0 L347.5,603.9 L348.2,603.9 L349.2,603.9 L350.2,603.9 L351.2,603.9 L351.7,601.6 L352.2,603.9 L352.7,603.9 L353.7,603.9 L354.7,603.9 L355.2,603.0 L355.7,603.9 L356.6,603.9 L357.6,603.9 L358.6,603.9 L359.1,601.6 L359.6,603.9 L359.9,603.9 L360.9,603.9 L361.9,603.9 L362.9,603.9 L363.4,602.8 L363.9,603.9 L364.7,603.9 L365.2,601.6 L365.7,603.9 L366.3,603.9 L366.8,600.0 L367.3,603.9 L368.0,603.9 L369.0,603.9 L370.0,603.9 L370.5,602.3 L371.0,603.9 L371.6,603.9 L372.1,600.9 L372.6,603.9 L373.3,603.9 L374.3,603.9 L375.3,603.9 L376.3,603.9 L376.8,600.7 L377.3,603.9 L377.8,603.9 L378.8,603.9 L379.3,602.0 L379.8,603.9 L380.1,603.9 L380.6,601.6 L381.1,603.9 L381.7,603.9 L382.2,601.9 L382.7,603.9 L383.6,603.9 L384.1,602.5 L384.6,603.9 L385.3,603.9 L385.8,601.8 L386.3,603.9 L386.7,603.9 L387.2,602.6 L387.7,603.9 L388.1,603.9 L388.6,602.5 L389.1,603.9 L389.9,603.9 L390.9,603.9 L391.4,601.2 L391.9,603.9 L392.3,603.9 L393.3,603.9 L393.8,601.6 L394.3,603.9 L395.2,603.9 L396.2,603.9 L396.7,600.3 L397.2,603.9 L398.1,603.9 L399.1,603.9 L400.1,603.9 L401.1,603.9 L402.1,603.9 L403.1,603.9 L404.1,603.9 L404.6,602.8 L405.1,603.9 L405.8,603.9 L406.8,603.9 L407.3,602.6 L407.8,603.9 L408.1,603.9 L409.1,603.9 L409.6,597.9 L410.1,603.9 L410.6,603.9 L411.6,603.9 L412.6,603.9 L413.1,602.8 L413.6,603.9 L414.2,603.9 L415.2,603.9 L415.7,602.9 L416.2,603.9" fill="none" stroke="#8a8a8a" stroke-width="0.9" stroke-linejoin="round"/>
<path d="M449.5,393.0 L450.0,390.3 L450.5,393.0 L451.4,393.0 L452.4,393.0 L453.4,393.0 L454.4,393.0 L454.9,387.0 L455.4,393.0 L456.2,393.0 L457.2,393.0 L458.2,393.0 L459.2,393.0 L459.7,389.7 L460.2,393.0 L460.8,393.0 L461.3,391.2 L461.8,393.0 L462.3,393.0 L462.8,391.8 L463.3,393.0 L463.8,393.0 L464.8,393.0 L465.8,393.0 L466.8,393.0 L467.8,393.0 L468.3,390.3 L468.8,393.0 L469.2,393.0 L469.7,390.6 L470.2,393.0 L470.6,393.0 L471.6,393.0 L472.6,393.0 L473.1,389.2 L473.6,393.0 L474.2,393.0 L474.7,391.6 L475.2,393.0 L475.6,393.0 L476.1,391.5 L476.6,393.0 L477.6,393.0 L478.1,391.3 L478.6,393.0 L479.6,393.0 L480.1,388.7 L480.6,393.0 L481.5,393.0 L482.5,393.0 L483.0,391.9 L483.5,393.0 L483.8,393.0 L484.3,391.4 L484.8,393.0 L485.4,393.0 L486.4,393.0 L486.9,391.8 L487.4,393.0 L488.1,393.0 L488.6,392.2 L489.1,393.0 L490.1,393.0 L490.6,391.5 L491.1,393.0 L491.4,393.0 L492.4,393.0 L492.9,392.2 L493.4,393.0 L494.2,393.0 L494.7,389.5 L495.2,393.0 L495.9,393.0 L496.4,391.0 L496.9,393.0 L497.7,393.0 L498.7,393.0 L499.7,393.0 L500.2,390.5 L500.7,393.0 L501.1,393.0 L501.6,392.0 L502.1,393.0 L502.6,393.0 L503.6,393.0 L504.6,393.0 L505.6,393.0 L506.6,393.0 L507.1,390.3 L507.6,393.0 L508.2,393.0 L508.7,392.0 L509.2,393.0 L510.0,393.0 L510.5,391.7 L511.0,393.0 L511.7,393.0 L512.7,393.0 L513.7,393.0 L514.7,393.0 L515.2,391.8 L515.7,393.0 L516.2,393.0 L516.7,390.2 L517.2,393.0 L518.2,393.0 L519.2,393.0 L519.7,391.4 L520.2,393.0 L521.1,393.0 L522.1,393.0 L523.1,393.0 L523.6,391.6 L524.1,393.0 L524.8,393.0 L525.8,393.0 L526.3,391.1 L526.8,393.0 L527.1,393.0 L527.6,386.2 L528.1,393.0 L528.8,393.0 L529.8,393.0 L530.3,391.8 L530.8,393.0 L531.7,393.0 L532.7,393.0 L533.2,391.6 L533.7,393.0 L534.4,393.0 L535.4,393.0 L535.9,392.1 L536.4,393.0 L537.4,393.0 L537.9,391.6 L538.4,393.0 L539.1,393.0 L539.6,391.3 L540.1,393.0 L540.4,393.0 L540.9,392.0 L541.4,393.0 L542.0,393.0 L542.5,392.0 L543.0,393.0 L543.9,393.0 L544.4,391.5 L544.9,393.0 L545.8,393.0 L546.3,389.3 L546.8,393.0 L547.2,393.0 L547.7,391.2 L548.2,393.0 L549.2,393.0 L550.2,393.0 L550.7,392.0 L551.2,393.0 L552.1,393.0 L552.6,389.9 L553.1,393.0 L554.0,393.0 L555.0,393.0 L556.0,393.0 L556.5,387.7 L557.0,393.0 L557.6,393.0 L558.1,390.5 L558.6,393.0 L559.1,393.0 L560.1,393.0 L561.1,393.0 L561.6,391.5 L562.1,393.0 L562.7,393.0 L563.2,386.3 L563.7,393.0 L564.7,393.0 L565.7,393.0 L566.7,393.0 L567.7,393.0 L568.2,387.5 L568.7,393.0 L569.0,393.0 L570.0,393.0 L570.5,391.9 L571.0,393.0 L571.5,393.0 L572.0,391.6 L572.5,393.0 L572.8,393.0 L573.3,391.4 L573.8,393.0 L574.7,393.0 L575.7,393.0 L576.7,393.0 L577.2,391.8 L577.7,393.0 L578.5,393.0 L579.0,391.5 L579.5,393.0 L580.0,393.0 L580.5,390.1 L581.0,393.0 L581.3,393.0 L581.8,389.8 L582.3,393.0 L582.8,393.0 L583.3,391.8 L583.8,393.0 L584.4,393.0 L585.4,393.0 L585.9,391.5 L586.4,393.0 L587.2,393.0 L587.7,390.6 L588.2,393.0 L589.0,393.0 L590.0,393.0 L591.0,393.0 L592.0,393.0 L593.0,393.0 L594.0,393.0 L594.5,389.2 L595.0,393.0 L595.5,393.0 L596.0,391.6 L596.5,393.0 L597.1,393.0 L597.6,386.5 L598.1,393.0 L598.9,393.0 L599.9,393.0 L600.4,389.0 L600.9,393.0 L601.8,393.0 L602.3,390.2 L602.8,393.0" fill="none" stroke="#f0282d" stroke-width="0.9" stroke-linejoin="round"/>
<path d="M449.5,462.8 L450.0,461.1 L450.5,462.8 L451.2,462.8 L451.7,456.0 L452.2,462.8 L452.8,462.8 L453.8,462.8 L454.3,459.7 L454.8,462.8 L455.7,462.8 L456.7,462.8 L457.2,460.5 L457.7,462.8 L458.4,462.8 L458.9,460.7 L459.4,462.8 L460.0,462.8 L460.5,460.1 L461.0,462.8 L461.5,462.8 L462.0,460.3 L462.5,462.8 L463.1,462.8 L463.6,459.9 L464.1,462.8 L464.6,462.8 L465.1,460.0 L465.6,462.8 L466.1,462.8 L466.6,461.2 L467.1,462.8 L467.4,462.8 L468.4,462.8 L469.4,462.8 L469.9,461.4 L470.4,462.8 L471.0,462.8 L471.5,458.8 L472.0,462.8 L472.8,462.8 L473.8,462.8 L474.8,462.8 L475.3,461.7 L475.8,462.8 L476.5,462.8 L477.5,462.8 L478.0,459.5 L478.5,462.8 L479.4,462.8 L479.9,461.7 L480.4,462.8 L480.9,462.8 L481.9,462.8 L482.4,461.6 L482.9,462.8 L483.5,462.8 L484.0,461.3 L484.5,462.8 L485.3,462.8 L485.8,460.9 L486.3,462.8 L486.8,462.8 L487.8,462.8 L488.3,460.1 L488.8,462.8 L489.6,462.8 L490.1,461.9 L490.6,462.8 L491.4,462.8 L491.9,459.3 L492.4,462.8 L493.2,462.8 L493.7,461.2 L494.2,462.8 L494.8,462.8 L495.3,460.0 L495.8,462.8 L496.3,462.8 L496.8,461.1 L497.3,462.8 L497.7,462.8 L498.7,462.8 L499.2,461.1 L499.7,462.8 L500.4,462.8 L500.9,460.9 L501.4,462.8 L502.0,462.8 L502.5,457.9 L503.0,462.8 L503.9,462.8 L504.9,462.8 L505.4,460.7 L505.9,462.8 L506.5,462.8 L507.0,459.7 L507.5,462.8 L507.9,462.8 L508.4,460.6 L508.9,462.8 L509.6,462.8 L510.1,459.7 L510.6,462.8 L511.2,462.8 L511.7,461.7 L512.2,462.8 L513.1,462.8 L513.6,461.8 L514.1,462.8 L515.0,462.8 L516.0,462.8 L517.0,462.8 L518.0,462.8 L518.5,461.8 L519.0,462.8 L519.6,462.8 L520.1,458.8 L520.6,462.8 L520.9,462.8 L521.4,460.3 L521.9,462.8 L522.3,462.8 L522.8,461.6 L523.3,462.8 L524.2,462.8 L525.2,462.8 L525.7,461.7 L526.2,462.8 L527.0,462.8 L527.5,460.8 L528.0,462.8 L529.0,462.8 L529.5,461.0 L530.0,462.8 L530.9,462.8 L531.9,462.8 L532.4,461.8 L532.9,462.8 L533.8,462.8 L534.8,462.8 L535.3,460.6 L535.8,462.8 L536.3,462.8 L537.3,462.8 L537.8,461.1 L538.3,462.8 L538.7,462.8 L539.2,457.3 L539.7,462.8 L540.1,462.8 L540.6,458.0 L541.1,462.8 L541.4,462.8 L541.9,457.1 L542.4,462.8 L542.8,462.8 L543.8,462.8 L544.8,462.8 L545.3,458.2 L545.8,462.8 L546.5,462.8 L547.5,462.8 L548.0,459.5 L548.5,462.8 L549.0,462.8 L549.5,461.7 L550.0,462.8 L550.9,462.8 L551.9,462.8 L552.4,459.5 L552.9,462.8 L553.5,462.8 L554.0,461.8 L554.5,462.8 L555.5,462.8 L556.0,460.4 L556.5,462.8 L557.5,462.8 L558.0,455.8 L558.5,462.8 L558.9,462.8 L559.9,462.8 L560.9,462.8 L561.9,462.8 L562.9,462.8 L563.9,462.8 L564.9,462.8 L565.4,460.7 L565.9,462.8 L566.3,462.8 L566.8,459.7 L567.3,462.8 L568.1,462.8 L569.1,462.8 L569.6,457.0 L570.1,462.8 L570.6,462.8 L571.1,457.5 L571.6,462.8 L572.5,462.8 L573.5,462.8 L574.0,460.3 L574.5,462.8 L575.4,462.8 L575.9,460.7 L576.4,462.8 L577.2,462.8 L577.7,459.9 L578.2,462.8 L578.8,462.8 L579.8,462.8 L580.3,460.6 L580.8,462.8 L581.5,462.8 L582.0,458.3 L582.5,462.8 L582.9,462.8 L583.9,462.8 L584.9,462.8 L585.4,459.4 L585.9,462.8 L586.5,462.8 L587.0,459.5 L587.5,462.8 L588.1,462.8 L589.1,462.8 L590.1,462.8 L590.6,461.8 L591.1,462.8 L592.0,462.8 L593.0,462.8 L594.0,462.8 L594.5,460.6 L595.0,462.8 L595.9,462.8 L596.4,459.6 L596.9,462.8 L597.5,462.8 L598.0,461.9 L598.5,462.8 L599.0,462.8 L599.5,455.8 L600.0,462.8" fill="none" stroke="#4545f2" stroke-width="0.9" stroke-linejoin="round"/>
<path d="M460.8,534.2 L461.6,531.0 L462.4,534.2" fill="none" stroke="#1a9ae0" stroke-width="1.0" stroke-linejoin="round"/>
<path d="M501.0,534.2 L501.8,531.0 L502.6,534.2" fill="none" stroke="#1a9ae0" stroke-width="1.0" stroke-linejoin="round"/>
<path d="M526.7,534.2 L527.5,531.0 L528.3,534.2" fill="none" stroke="#1a9ae0" stroke-width="1.0" stroke-linejoin="round"/>
<path d="M449.5,603.2 L450.5,595.5 L451.5,589.7 L452.5,588.6 L453.5,594.9 L454.2,593.7 L455.0,591.8 L456.0,594.6 L457.0,598.0 L458.0,596.8 L459.0,597.7 L460.0,598.4 L461.0,597.7 L462.0,600.4 L463.0,600.0 L464.0,598.4 L465.0,598.6 L466.0,597.8 L467.0,597.8 L468.0,599.0 L469.0,597.5 L470.0,599.1 L471.0,599.8 L472.0,600.5 L473.0,600.1 L474.0,600.0 L474.0,603.9 L475.0,603.9 L476.0,603.9 L477.0,603.9 L478.0,603.9 L479.0,603.9 L480.0,603.9 L481.0,603.9 L482.0,603.9 L482.6,600.8 L483.2,603.9 L483.8,603.9 L484.8,603.9 L485.4,601.9 L486.0,603.9 L486.9,603.9 L487.5,602.8 L488.1,603.9 L488.7,603.9 L489.7,603.9 L490.3,599.2 L490.9,603.9 L491.4,603.9 L492.4,603.9 L493.4,603.9 L494.4,603.9 L495.4,603.9 L496.4,603.9 L497.0,601.9 L497.6,603.9 L498.4,603.9 L499.4,603.9 L500.4,603.9 L501.4,603.9 L502.4,603.9 L503.4,603.9 L504.0,602.7 L504.6,603.9 L505.4,603.9 L506.4,603.9 L507.4,603.9 L508.4,603.9 L509.0,601.4 L509.6,603.9 L510.4,603.9 L511.0,601.6 L511.6,603.9 L512.5,603.9 L513.5,603.9 L514.5,603.9 L515.5,603.9 L516.5,603.9 L517.5,603.9 L518.1,601.4 L518.7,603.9 L519.1,603.9 L519.7,602.7 L520.3,603.9 L520.7,603.9 L521.7,603.9 L522.7,603.9 L523.7,603.9 L524.7,603.9 L525.7,603.9 L526.7,603.9 L527.7,603.9 L528.7,603.9 L529.7,603.9 L530.3,602.1 L530.9,603.9 L531.9,603.9 L532.9,603.9 L533.9,603.9 L534.9,603.9 L535.9,603.9 L536.9,603.9 L537.5,601.7 L538.1,603.9 L538.5,603.9 L539.1,601.3 L539.7,603.9 L540.0,603.9 L540.6,600.8 L541.2,603.9 L542.0,603.9 L543.0,603.9 L544.0,603.9 L544.6,600.7 L545.2,603.9 L545.6,603.9 L546.2,602.0 L546.8,603.9 L547.4,603.9 L548.4,603.9 L549.4,603.9 L550.4,603.9 L551.4,603.9 L552.4,603.9 L553.4,603.9 L554.4,603.9 L555.0,602.8 L555.6,603.9 L556.5,603.9 L557.5,603.9 L558.5,603.9 L559.1,599.9 L559.7,603.9 L560.2,603.9 L561.2,603.9 L562.2,603.9 L563.2,603.9 L564.2,603.9 L565.2,603.9 L566.2,603.9 L566.8,602.6 L567.4,603.9 L568.0,603.9 L568.6,602.6 L569.2,603.9 L569.8,603.9 L570.4,602.8 L571.0,603.9 L571.4,603.9 L572.0,599.3 L572.6,603.9 L573.3,603.9 L573.9,602.7 L574.5,603.9 L575.1,603.9 L576.1,603.9 L576.7,600.2 L577.3,603.9 L578.2,603.9 L579.2,603.9 L580.2,603.9 L580.8,601.8 L581.4,603.9 L582.0,603.9 L583.0,603.9 L583.6,600.7 L584.2,603.9 L584.9,603.9 L585.5,602.8 L586.1,603.9 L587.0,603.9 L588.0,603.9 L589.0,603.9 L590.0,603.9 L590.6,600.9 L591.2,603.9 L591.5,603.9 L592.5,603.9 L593.1,602.5 L593.7,603.9 L594.6,603.9 L595.6,603.9 L596.6,603.9 L597.6,603.9 L598.6,603.9 L599.2,601.5 L599.8,603.9" fill="none" stroke="#8a8a8a" stroke-width="0.9" stroke-linejoin="round"/>
<line x1="160.00" y1="392.80" x2="163.50" y2="392.80" stroke="#444444" stroke-width="1.0"/>
<line x1="160.00" y1="384.55" x2="163.50" y2="384.55" stroke="#444444" stroke-width="1.0"/>
<line x1="160.00" y1="376.30" x2="163.50" y2="376.30" stroke="#444444" stroke-width="1.0"/>
<line x1="160.00" y1="368.05" x2="163.50" y2="368.05" stroke="#444444" stroke-width="1.0"/>
<line x1="160.00" y1="359.80" x2="163.50" y2="359.80" stroke="#444444" stroke-width="1.0"/>
<line x1="160.00" y1="351.55" x2="163.50" y2="351.55" stroke="#444444" stroke-width="1.0"/>
<line x1="160.00" y1="343.30" x2="163.50" y2="343.30" stroke="#444444" stroke-width="1.0"/>
<line x1="160.00" y1="335.05" x2="163.50" y2="335.05" stroke="#444444" stroke-width="1.0"/>
<line x1="160.00" y1="462.30" x2="163.50" y2="462.30" stroke="#444444" stroke-width="1.0"/>
<line x1="160.00" y1="453.70" x2="163.50" y2="453.70" stroke="#444444" stroke-width="1.0"/>
<line x1="160.00" y1="445.10" x2="163.50" y2="445.10" stroke="#444444" stroke-width="1.0"/>
<line x1="160.00" y1="436.50" x2="163.50" y2="436.50" stroke="#444444" stroke-width="1.0"/>
<line x1="160.00" y1="427.90" x2="163.50" y2="427.90" stroke="#444444" stroke-width="1.0"/>
<line x1="160.00" y1="419.30" x2="163.50" y2="419.30" stroke="#444444" stroke-width="1.0"/>
<line x1="160.00" y1="410.70" x2="163.50" y2="410.70" stroke="#444444" stroke-width="1.0"/>
<line x1="160.00" y1="402.10" x2="163.50" y2="402.10" stroke="#444444" stroke-width="1.0"/>
<line x1="160.00" y1="534.20" x2="163.50" y2="534.20" stroke="#444444" stroke-width="1.0"/>
<line x1="160.00" y1="525.90" x2="163.50" y2="525.90" stroke="#444444" stroke-width="1.0"/>
<line x1="160.00" y1="517.60" x2="163.50" y2="517.60" stroke="#444444" stroke-width="1.0"/>
<line x1="160.00" y1="509.30" x2="163.50" y2="509.30" stroke="#444444" stroke-width="1.0"/>
<line x1="160.00" y1="501.00" x2="163.50" y2="501.00" stroke="#444444" stroke-width="1.0"/>
<line x1="160.00" y1="492.70" x2="163.50" y2="492.70" stroke="#444444" stroke-width="1.0"/>
<line x1="160.00" y1="484.40" x2="163.50" y2="484.40" stroke="#444444" stroke-width="1.0"/>
<line x1="160.00" y1="476.10" x2="163.50" y2="476.10" stroke="#444444" stroke-width="1.0"/>
<line x1="160.00" y1="467.80" x2="163.50" y2="467.80" stroke="#444444" stroke-width="1.0"/>
<line x1="160.00" y1="603.90" x2="163.50" y2="603.90" stroke="#444444" stroke-width="1.0"/>
<line x1="160.00" y1="595.90" x2="163.50" y2="595.90" stroke="#444444" stroke-width="1.0"/>
<line x1="160.00" y1="587.90" x2="163.50" y2="587.90" stroke="#444444" stroke-width="1.0"/>
<line x1="160.00" y1="579.90" x2="163.50" y2="579.90" stroke="#444444" stroke-width="1.0"/>
<line x1="160.00" y1="571.90" x2="163.50" y2="571.90" stroke="#444444" stroke-width="1.0"/>
<line x1="160.00" y1="563.90" x2="163.50" y2="563.90" stroke="#444444" stroke-width="1.0"/>
<line x1="160.00" y1="555.90" x2="163.50" y2="555.90" stroke="#444444" stroke-width="1.0"/>
<line x1="160.00" y1="547.90" x2="163.50" y2="547.90" stroke="#444444" stroke-width="1.0"/>
<line x1="160.00" y1="539.90" x2="163.50" y2="539.90" stroke="#444444" stroke-width="1.0"/>
<line x1="168.94" y1="392.80" x2="168.94" y2="396.00" stroke="#444444" stroke-width="1.1"/>
<line x1="175.40" y1="392.80" x2="175.40" y2="397.30" stroke="#444444" stroke-width="1.1"/>
<line x1="181.86" y1="392.80" x2="181.86" y2="396.00" stroke="#444444" stroke-width="1.1"/>
<line x1="188.32" y1="392.80" x2="188.32" y2="396.00" stroke="#444444" stroke-width="1.1"/>
<line x1="194.78" y1="392.80" x2="194.78" y2="396.00" stroke="#444444" stroke-width="1.1"/>
<line x1="201.24" y1="392.80" x2="201.24" y2="396.00" stroke="#444444" stroke-width="1.1"/>
<line x1="207.70" y1="392.80" x2="207.70" y2="396.00" stroke="#444444" stroke-width="1.1"/>
<line x1="214.16" y1="392.80" x2="214.16" y2="396.00" stroke="#444444" stroke-width="1.1"/>
<line x1="220.62" y1="392.80" x2="220.62" y2="396.00" stroke="#444444" stroke-width="1.1"/>
<line x1="227.08" y1="392.80" x2="227.08" y2="396.00" stroke="#444444" stroke-width="1.1"/>
<line x1="233.54" y1="392.80" x2="233.54" y2="396.00" stroke="#444444" stroke-width="1.1"/>
<line x1="240.00" y1="392.80" x2="240.00" y2="397.30" stroke="#444444" stroke-width="1.1"/>
<line x1="246.46" y1="392.80" x2="246.46" y2="396.00" stroke="#444444" stroke-width="1.1"/>
<line x1="168.94" y1="462.30" x2="168.94" y2="465.50" stroke="#444444" stroke-width="1.1"/>
<line x1="175.40" y1="462.30" x2="175.40" y2="466.80" stroke="#444444" stroke-width="1.1"/>
<line x1="181.86" y1="462.30" x2="181.86" y2="465.50" stroke="#444444" stroke-width="1.1"/>
<line x1="188.32" y1="462.30" x2="188.32" y2="465.50" stroke="#444444" stroke-width="1.1"/>
<line x1="194.78" y1="462.30" x2="194.78" y2="465.50" stroke="#444444" stroke-width="1.1"/>
<line x1="201.24" y1="462.30" x2="201.24" y2="465.50" stroke="#444444" stroke-width="1.1"/>
<line x1="207.70" y1="462.30" x2="207.70" y2="465.50" stroke="#444444" stroke-width="1.1"/>
<line x1="214.16" y1="462.30" x2="214.16" y2="465.50" stroke="#444444" stroke-width="1.1"/>
<line x1="220.62" y1="462.30" x2="220.62" y2="465.50" stroke="#444444" stroke-width="1.1"/>
<line x1="227.08" y1="462.30" x2="227.08" y2="465.50" stroke="#444444" stroke-width="1.1"/>
<line x1="233.54" y1="462.30" x2="233.54" y2="465.50" stroke="#444444" stroke-width="1.1"/>
<line x1="240.00" y1="462.30" x2="240.00" y2="466.80" stroke="#444444" stroke-width="1.1"/>
<line x1="246.46" y1="462.30" x2="246.46" y2="465.50" stroke="#444444" stroke-width="1.1"/>
<line x1="168.94" y1="534.20" x2="168.94" y2="537.40" stroke="#444444" stroke-width="1.1"/>
<line x1="175.40" y1="534.20" x2="175.40" y2="538.70" stroke="#444444" stroke-width="1.1"/>
<line x1="181.86" y1="534.20" x2="181.86" y2="537.40" stroke="#444444" stroke-width="1.1"/>
<line x1="188.32" y1="534.20" x2="188.32" y2="537.40" stroke="#444444" stroke-width="1.1"/>
<line x1="194.78" y1="534.20" x2="194.78" y2="537.40" stroke="#444444" stroke-width="1.1"/>
<line x1="201.24" y1="534.20" x2="201.24" y2="537.40" stroke="#444444" stroke-width="1.1"/>
<line x1="207.70" y1="534.20" x2="207.70" y2="537.40" stroke="#444444" stroke-width="1.1"/>
<line x1="214.16" y1="534.20" x2="214.16" y2="537.40" stroke="#444444" stroke-width="1.1"/>
<line x1="220.62" y1="534.20" x2="220.62" y2="537.40" stroke="#444444" stroke-width="1.1"/>
<line x1="227.08" y1="534.20" x2="227.08" y2="537.40" stroke="#444444" stroke-width="1.1"/>
<line x1="233.54" y1="534.20" x2="233.54" y2="537.40" stroke="#444444" stroke-width="1.1"/>
<line x1="240.00" y1="534.20" x2="240.00" y2="538.70" stroke="#444444" stroke-width="1.1"/>
<line x1="246.46" y1="534.20" x2="246.46" y2="537.40" stroke="#444444" stroke-width="1.1"/>
<line x1="168.94" y1="603.90" x2="168.94" y2="607.10" stroke="#444444" stroke-width="1.1"/>
<line x1="175.40" y1="603.90" x2="175.40" y2="609.40" stroke="#444444" stroke-width="1.1"/>
<line x1="181.86" y1="603.90" x2="181.86" y2="607.10" stroke="#444444" stroke-width="1.1"/>
<line x1="188.32" y1="603.90" x2="188.32" y2="607.10" stroke="#444444" stroke-width="1.1"/>
<line x1="194.78" y1="603.90" x2="194.78" y2="607.10" stroke="#444444" stroke-width="1.1"/>
<line x1="201.24" y1="603.90" x2="201.24" y2="607.10" stroke="#444444" stroke-width="1.1"/>
<line x1="207.70" y1="603.90" x2="207.70" y2="607.10" stroke="#444444" stroke-width="1.1"/>
<line x1="214.16" y1="603.90" x2="214.16" y2="607.10" stroke="#444444" stroke-width="1.1"/>
<line x1="220.62" y1="603.90" x2="220.62" y2="607.10" stroke="#444444" stroke-width="1.1"/>
<line x1="227.08" y1="603.90" x2="227.08" y2="607.10" stroke="#444444" stroke-width="1.1"/>
<line x1="233.54" y1="603.90" x2="233.54" y2="607.10" stroke="#444444" stroke-width="1.1"/>
<line x1="240.00" y1="603.90" x2="240.00" y2="609.40" stroke="#444444" stroke-width="1.1"/>
<line x1="246.46" y1="603.90" x2="246.46" y2="607.10" stroke="#444444" stroke-width="1.1"/>
<line x1="283.00" y1="392.60" x2="286.50" y2="392.60" stroke="#444444" stroke-width="1.0"/>
<line x1="283.00" y1="381.20" x2="286.50" y2="381.20" stroke="#444444" stroke-width="1.0"/>
<line x1="283.00" y1="369.80" x2="286.50" y2="369.80" stroke="#444444" stroke-width="1.0"/>
<line x1="283.00" y1="358.40" x2="286.50" y2="358.40" stroke="#444444" stroke-width="1.0"/>
<line x1="283.00" y1="347.00" x2="286.50" y2="347.00" stroke="#444444" stroke-width="1.0"/>
<line x1="283.00" y1="335.60" x2="286.50" y2="335.60" stroke="#444444" stroke-width="1.0"/>
<line x1="283.00" y1="462.20" x2="286.50" y2="462.20" stroke="#444444" stroke-width="1.0"/>
<line x1="283.00" y1="450.60" x2="286.50" y2="450.60" stroke="#444444" stroke-width="1.0"/>
<line x1="283.00" y1="439.00" x2="286.50" y2="439.00" stroke="#444444" stroke-width="1.0"/>
<line x1="283.00" y1="427.40" x2="286.50" y2="427.40" stroke="#444444" stroke-width="1.0"/>
<line x1="283.00" y1="415.80" x2="286.50" y2="415.80" stroke="#444444" stroke-width="1.0"/>
<line x1="283.00" y1="404.20" x2="286.50" y2="404.20" stroke="#444444" stroke-width="1.0"/>
<line x1="283.00" y1="533.50" x2="286.50" y2="533.50" stroke="#444444" stroke-width="1.0"/>
<line x1="283.00" y1="522.10" x2="286.50" y2="522.10" stroke="#444444" stroke-width="1.0"/>
<line x1="283.00" y1="510.70" x2="286.50" y2="510.70" stroke="#444444" stroke-width="1.0"/>
<line x1="283.00" y1="499.30" x2="286.50" y2="499.30" stroke="#444444" stroke-width="1.0"/>
<line x1="283.00" y1="487.90" x2="286.50" y2="487.90" stroke="#444444" stroke-width="1.0"/>
<line x1="283.00" y1="476.50" x2="286.50" y2="476.50" stroke="#444444" stroke-width="1.0"/>
<line x1="283.00" y1="465.10" x2="286.50" y2="465.10" stroke="#444444" stroke-width="1.0"/>
<line x1="283.00" y1="603.90" x2="286.50" y2="603.90" stroke="#444444" stroke-width="1.0"/>
<line x1="283.00" y1="592.60" x2="286.50" y2="592.60" stroke="#444444" stroke-width="1.0"/>
<line x1="283.00" y1="581.30" x2="286.50" y2="581.30" stroke="#444444" stroke-width="1.0"/>
<line x1="283.00" y1="570.00" x2="286.50" y2="570.00" stroke="#444444" stroke-width="1.0"/>
<line x1="283.00" y1="558.70" x2="286.50" y2="558.70" stroke="#444444" stroke-width="1.0"/>
<line x1="283.00" y1="547.40" x2="286.50" y2="547.40" stroke="#444444" stroke-width="1.0"/>
<line x1="283.00" y1="536.10" x2="286.50" y2="536.10" stroke="#444444" stroke-width="1.0"/>
<line x1="287.00" y1="392.60" x2="287.00" y2="395.80" stroke="#444444" stroke-width="1.1"/>
<line x1="295.80" y1="392.60" x2="295.80" y2="395.80" stroke="#444444" stroke-width="1.1"/>
<line x1="304.60" y1="392.60" x2="304.60" y2="395.80" stroke="#444444" stroke-width="1.1"/>
<line x1="313.40" y1="392.60" x2="313.40" y2="397.10" stroke="#444444" stroke-width="1.1"/>
<line x1="322.20" y1="392.60" x2="322.20" y2="395.80" stroke="#444444" stroke-width="1.1"/>
<line x1="331.00" y1="392.60" x2="331.00" y2="395.80" stroke="#444444" stroke-width="1.1"/>
<line x1="339.80" y1="392.60" x2="339.80" y2="395.80" stroke="#444444" stroke-width="1.1"/>
<line x1="348.60" y1="392.60" x2="348.60" y2="395.80" stroke="#444444" stroke-width="1.1"/>
<line x1="357.40" y1="392.60" x2="357.40" y2="395.80" stroke="#444444" stroke-width="1.1"/>
<line x1="366.20" y1="392.60" x2="366.20" y2="395.80" stroke="#444444" stroke-width="1.1"/>
<line x1="375.00" y1="392.60" x2="375.00" y2="395.80" stroke="#444444" stroke-width="1.1"/>
<line x1="383.80" y1="392.60" x2="383.80" y2="395.80" stroke="#444444" stroke-width="1.1"/>
<line x1="392.60" y1="392.60" x2="392.60" y2="395.80" stroke="#444444" stroke-width="1.1"/>
<line x1="401.40" y1="392.60" x2="401.40" y2="397.10" stroke="#444444" stroke-width="1.1"/>
<line x1="410.20" y1="392.60" x2="410.20" y2="395.80" stroke="#444444" stroke-width="1.1"/>
<line x1="287.00" y1="462.20" x2="287.00" y2="465.40" stroke="#444444" stroke-width="1.1"/>
<line x1="295.80" y1="462.20" x2="295.80" y2="465.40" stroke="#444444" stroke-width="1.1"/>
<line x1="304.60" y1="462.20" x2="304.60" y2="465.40" stroke="#444444" stroke-width="1.1"/>
<line x1="313.40" y1="462.20" x2="313.40" y2="466.70" stroke="#444444" stroke-width="1.1"/>
<line x1="322.20" y1="462.20" x2="322.20" y2="465.40" stroke="#444444" stroke-width="1.1"/>
<line x1="331.00" y1="462.20" x2="331.00" y2="465.40" stroke="#444444" stroke-width="1.1"/>
<line x1="339.80" y1="462.20" x2="339.80" y2="465.40" stroke="#444444" stroke-width="1.1"/>
<line x1="348.60" y1="462.20" x2="348.60" y2="465.40" stroke="#444444" stroke-width="1.1"/>
<line x1="357.40" y1="462.20" x2="357.40" y2="465.40" stroke="#444444" stroke-width="1.1"/>
<line x1="366.20" y1="462.20" x2="366.20" y2="465.40" stroke="#444444" stroke-width="1.1"/>
<line x1="375.00" y1="462.20" x2="375.00" y2="465.40" stroke="#444444" stroke-width="1.1"/>
<line x1="383.80" y1="462.20" x2="383.80" y2="465.40" stroke="#444444" stroke-width="1.1"/>
<line x1="392.60" y1="462.20" x2="392.60" y2="465.40" stroke="#444444" stroke-width="1.1"/>
<line x1="401.40" y1="462.20" x2="401.40" y2="466.70" stroke="#444444" stroke-width="1.1"/>
<line x1="410.20" y1="462.20" x2="410.20" y2="465.40" stroke="#444444" stroke-width="1.1"/>
<line x1="287.00" y1="533.50" x2="287.00" y2="536.70" stroke="#444444" stroke-width="1.1"/>
<line x1="295.80" y1="533.50" x2="295.80" y2="536.70" stroke="#444444" stroke-width="1.1"/>
<line x1="304.60" y1="533.50" x2="304.60" y2="536.70" stroke="#444444" stroke-width="1.1"/>
<line x1="313.40" y1="533.50" x2="313.40" y2="538.00" stroke="#444444" stroke-width="1.1"/>
<line x1="322.20" y1="533.50" x2="322.20" y2="536.70" stroke="#444444" stroke-width="1.1"/>
<line x1="331.00" y1="533.50" x2="331.00" y2="536.70" stroke="#444444" stroke-width="1.1"/>
<line x1="339.80" y1="533.50" x2="339.80" y2="536.70" stroke="#444444" stroke-width="1.1"/>
<line x1="348.60" y1="533.50" x2="348.60" y2="536.70" stroke="#444444" stroke-width="1.1"/>
<line x1="357.40" y1="533.50" x2="357.40" y2="536.70" stroke="#444444" stroke-width="1.1"/>
<line x1="366.20" y1="533.50" x2="366.20" y2="536.70" stroke="#444444" stroke-width="1.1"/>
<line x1="375.00" y1="533.50" x2="375.00" y2="536.70" stroke="#444444" stroke-width="1.1"/>
<line x1="383.80" y1="533.50" x2="383.80" y2="536.70" stroke="#444444" stroke-width="1.1"/>
<line x1="392.60" y1="533.50" x2="392.60" y2="536.70" stroke="#444444" stroke-width="1.1"/>
<line x1="401.40" y1="533.50" x2="401.40" y2="538.00" stroke="#444444" stroke-width="1.1"/>
<line x1="410.20" y1="533.50" x2="410.20" y2="536.70" stroke="#444444" stroke-width="1.1"/>
<line x1="287.00" y1="603.90" x2="287.00" y2="607.10" stroke="#444444" stroke-width="1.1"/>
<line x1="295.80" y1="603.90" x2="295.80" y2="607.10" stroke="#444444" stroke-width="1.1"/>
<line x1="304.60" y1="603.90" x2="304.60" y2="607.10" stroke="#444444" stroke-width="1.1"/>
<line x1="313.40" y1="603.90" x2="313.40" y2="609.40" stroke="#444444" stroke-width="1.1"/>
<line x1="322.20" y1="603.90" x2="322.20" y2="607.10" stroke="#444444" stroke-width="1.1"/>
<line x1="331.00" y1="603.90" x2="331.00" y2="607.10" stroke="#444444" stroke-width="1.1"/>
<line x1="339.80" y1="603.90" x2="339.80" y2="607.10" stroke="#444444" stroke-width="1.1"/>
<line x1="348.60" y1="603.90" x2="348.60" y2="607.10" stroke="#444444" stroke-width="1.1"/>
<line x1="357.40" y1="603.90" x2="357.40" y2="607.10" stroke="#444444" stroke-width="1.1"/>
<line x1="366.20" y1="603.90" x2="366.20" y2="607.10" stroke="#444444" stroke-width="1.1"/>
<line x1="375.00" y1="603.90" x2="375.00" y2="607.10" stroke="#444444" stroke-width="1.1"/>
<line x1="383.80" y1="603.90" x2="383.80" y2="607.10" stroke="#444444" stroke-width="1.1"/>
<line x1="392.60" y1="603.90" x2="392.60" y2="607.10" stroke="#444444" stroke-width="1.1"/>
<line x1="401.40" y1="603.90" x2="401.40" y2="609.40" stroke="#444444" stroke-width="1.1"/>
<line x1="410.20" y1="603.90" x2="410.20" y2="607.10" stroke="#444444" stroke-width="1.1"/>
<line x1="445.30" y1="393.00" x2="448.80" y2="393.00" stroke="#444444" stroke-width="1.0"/>
<line x1="445.30" y1="380.30" x2="448.80" y2="380.30" stroke="#444444" stroke-width="1.0"/>
<line x1="445.30" y1="367.60" x2="448.80" y2="367.60" stroke="#444444" stroke-width="1.0"/>
<line x1="445.30" y1="354.90" x2="448.80" y2="354.90" stroke="#444444" stroke-width="1.0"/>
<line x1="445.30" y1="342.20" x2="448.80" y2="342.20" stroke="#444444" stroke-width="1.0"/>
<line x1="445.30" y1="329.50" x2="448.80" y2="329.50" stroke="#444444" stroke-width="1.0"/>
<line x1="445.30" y1="462.80" x2="448.80" y2="462.80" stroke="#444444" stroke-width="1.0"/>
<line x1="445.30" y1="450.00" x2="448.80" y2="450.00" stroke="#444444" stroke-width="1.0"/>
<line x1="445.30" y1="437.20" x2="448.80" y2="437.20" stroke="#444444" stroke-width="1.0"/>
<line x1="445.30" y1="424.40" x2="448.80" y2="424.40" stroke="#444444" stroke-width="1.0"/>
<line x1="445.30" y1="411.60" x2="448.80" y2="411.60" stroke="#444444" stroke-width="1.0"/>
<line x1="445.30" y1="398.80" x2="448.80" y2="398.80" stroke="#444444" stroke-width="1.0"/>
<line x1="445.30" y1="534.20" x2="448.80" y2="534.20" stroke="#444444" stroke-width="1.0"/>
<line x1="445.30" y1="521.20" x2="448.80" y2="521.20" stroke="#444444" stroke-width="1.0"/>
<line x1="445.30" y1="508.20" x2="448.80" y2="508.20" stroke="#444444" stroke-width="1.0"/>
<line x1="445.30" y1="495.20" x2="448.80" y2="495.20" stroke="#444444" stroke-width="1.0"/>
<line x1="445.30" y1="482.20" x2="448.80" y2="482.20" stroke="#444444" stroke-width="1.0"/>
<line x1="445.30" y1="469.20" x2="448.80" y2="469.20" stroke="#444444" stroke-width="1.0"/>
<line x1="445.30" y1="603.90" x2="448.80" y2="603.90" stroke="#444444" stroke-width="1.0"/>
<line x1="445.30" y1="591.10" x2="448.80" y2="591.10" stroke="#444444" stroke-width="1.0"/>
<line x1="445.30" y1="578.30" x2="448.80" y2="578.30" stroke="#444444" stroke-width="1.0"/>
<line x1="445.30" y1="565.50" x2="448.80" y2="565.50" stroke="#444444" stroke-width="1.0"/>
<line x1="445.30" y1="552.70" x2="448.80" y2="552.70" stroke="#444444" stroke-width="1.0"/>
<line x1="445.30" y1="539.90" x2="448.80" y2="539.90" stroke="#444444" stroke-width="1.0"/>
<line x1="450.72" y1="393.00" x2="450.72" y2="396.20" stroke="#444444" stroke-width="1.1"/>
<line x1="460.59" y1="393.00" x2="460.59" y2="396.20" stroke="#444444" stroke-width="1.1"/>
<line x1="470.46" y1="393.00" x2="470.46" y2="396.20" stroke="#444444" stroke-width="1.1"/>
<line x1="480.33" y1="393.00" x2="480.33" y2="396.20" stroke="#444444" stroke-width="1.1"/>
<line x1="490.20" y1="393.00" x2="490.20" y2="397.50" stroke="#444444" stroke-width="1.1"/>
<line x1="500.07" y1="393.00" x2="500.07" y2="396.20" stroke="#444444" stroke-width="1.1"/>
<line x1="509.94" y1="393.00" x2="509.94" y2="396.20" stroke="#444444" stroke-width="1.1"/>
<line x1="519.81" y1="393.00" x2="519.81" y2="396.20" stroke="#444444" stroke-width="1.1"/>
<line x1="529.68" y1="393.00" x2="529.68" y2="396.20" stroke="#444444" stroke-width="1.1"/>
<line x1="539.55" y1="393.00" x2="539.55" y2="396.20" stroke="#444444" stroke-width="1.1"/>
<line x1="549.42" y1="393.00" x2="549.42" y2="396.20" stroke="#444444" stroke-width="1.1"/>
<line x1="559.29" y1="393.00" x2="559.29" y2="396.20" stroke="#444444" stroke-width="1.1"/>
<line x1="569.16" y1="393.00" x2="569.16" y2="396.20" stroke="#444444" stroke-width="1.1"/>
<line x1="579.03" y1="393.00" x2="579.03" y2="396.20" stroke="#444444" stroke-width="1.1"/>
<line x1="588.90" y1="393.00" x2="588.90" y2="397.50" stroke="#444444" stroke-width="1.1"/>
<line x1="598.77" y1="393.00" x2="598.77" y2="396.20" stroke="#444444" stroke-width="1.1"/>
<line x1="450.72" y1="462.80" x2="450.72" y2="466.00" stroke="#444444" stroke-width="1.1"/>
<line x1="460.59" y1="462.80" x2="460.59" y2="466.00" stroke="#444444" stroke-width="1.1"/>
<line x1="470.46" y1="462.80" x2="470.46" y2="466.00" stroke="#444444" stroke-width="1.1"/>
<line x1="480.33" y1="462.80" x2="480.33" y2="466.00" stroke="#444444" stroke-width="1.1"/>
<line x1="490.20" y1="462.80" x2="490.20" y2="467.30" stroke="#444444" stroke-width="1.1"/>
<line x1="500.07" y1="462.80" x2="500.07" y2="466.00" stroke="#444444" stroke-width="1.1"/>
<line x1="509.94" y1="462.80" x2="509.94" y2="466.00" stroke="#444444" stroke-width="1.1"/>
<line x1="519.81" y1="462.80" x2="519.81" y2="466.00" stroke="#444444" stroke-width="1.1"/>
<line x1="529.68" y1="462.80" x2="529.68" y2="466.00" stroke="#444444" stroke-width="1.1"/>
<line x1="539.55" y1="462.80" x2="539.55" y2="466.00" stroke="#444444" stroke-width="1.1"/>
<line x1="549.42" y1="462.80" x2="549.42" y2="466.00" stroke="#444444" stroke-width="1.1"/>
<line x1="559.29" y1="462.80" x2="559.29" y2="466.00" stroke="#444444" stroke-width="1.1"/>
<line x1="569.16" y1="462.80" x2="569.16" y2="466.00" stroke="#444444" stroke-width="1.1"/>
<line x1="579.03" y1="462.80" x2="579.03" y2="466.00" stroke="#444444" stroke-width="1.1"/>
<line x1="588.90" y1="462.80" x2="588.90" y2="467.30" stroke="#444444" stroke-width="1.1"/>
<line x1="598.77" y1="462.80" x2="598.77" y2="466.00" stroke="#444444" stroke-width="1.1"/>
<line x1="450.72" y1="534.20" x2="450.72" y2="537.40" stroke="#444444" stroke-width="1.1"/>
<line x1="460.59" y1="534.20" x2="460.59" y2="537.40" stroke="#444444" stroke-width="1.1"/>
<line x1="470.46" y1="534.20" x2="470.46" y2="537.40" stroke="#444444" stroke-width="1.1"/>
<line x1="480.33" y1="534.20" x2="480.33" y2="537.40" stroke="#444444" stroke-width="1.1"/>
<line x1="490.20" y1="534.20" x2="490.20" y2="538.70" stroke="#444444" stroke-width="1.1"/>
<line x1="500.07" y1="534.20" x2="500.07" y2="537.40" stroke="#444444" stroke-width="1.1"/>
<line x1="509.94" y1="534.20" x2="509.94" y2="537.40" stroke="#444444" stroke-width="1.1"/>
<line x1="519.81" y1="534.20" x2="519.81" y2="537.40" stroke="#444444" stroke-width="1.1"/>
<line x1="529.68" y1="534.20" x2="529.68" y2="537.40" stroke="#444444" stroke-width="1.1"/>
<line x1="539.55" y1="534.20" x2="539.55" y2="537.40" stroke="#444444" stroke-width="1.1"/>
<line x1="549.42" y1="534.20" x2="549.42" y2="537.40" stroke="#444444" stroke-width="1.1"/>
<line x1="559.29" y1="534.20" x2="559.29" y2="537.40" stroke="#444444" stroke-width="1.1"/>
<line x1="569.16" y1="534.20" x2="569.16" y2="537.40" stroke="#444444" stroke-width="1.1"/>
<line x1="579.03" y1="534.20" x2="579.03" y2="537.40" stroke="#444444" stroke-width="1.1"/>
<line x1="588.90" y1="534.20" x2="588.90" y2="538.70" stroke="#444444" stroke-width="1.1"/>
<line x1="598.77" y1="534.20" x2="598.77" y2="537.40" stroke="#444444" stroke-width="1.1"/>
<line x1="450.72" y1="603.90" x2="450.72" y2="607.10" stroke="#444444" stroke-width="1.1"/>
<line x1="460.59" y1="603.90" x2="460.59" y2="607.10" stroke="#444444" stroke-width="1.1"/>
<line x1="470.46" y1="603.90" x2="470.46" y2="607.10" stroke="#444444" stroke-width="1.1"/>
<line x1="480.33" y1="603.90" x2="480.33" y2="607.10" stroke="#444444" stroke-width="1.1"/>
<line x1="490.20" y1="603.90" x2="490.20" y2="609.40" stroke="#444444" stroke-width="1.1"/>
<line x1="500.07" y1="603.90" x2="500.07" y2="607.10" stroke="#444444" stroke-width="1.1"/>
<line x1="509.94" y1="603.90" x2="509.94" y2="607.10" stroke="#444444" stroke-width="1.1"/>
<line x1="519.81" y1="603.90" x2="519.81" y2="607.10" stroke="#444444" stroke-width="1.1"/>
<line x1="529.68" y1="603.90" x2="529.68" y2="607.10" stroke="#444444" stroke-width="1.1"/>
<line x1="539.55" y1="603.90" x2="539.55" y2="607.10" stroke="#444444" stroke-width="1.1"/>
<line x1="549.42" y1="603.90" x2="549.42" y2="607.10" stroke="#444444" stroke-width="1.1"/>
<line x1="559.29" y1="603.90" x2="559.29" y2="607.10" stroke="#444444" stroke-width="1.1"/>
<line x1="569.16" y1="603.90" x2="569.16" y2="607.10" stroke="#444444" stroke-width="1.1"/>
<line x1="579.03" y1="603.90" x2="579.03" y2="607.10" stroke="#444444" stroke-width="1.1"/>
<line x1="588.90" y1="603.90" x2="588.90" y2="609.40" stroke="#444444" stroke-width="1.1"/>
<line x1="598.77" y1="603.90" x2="598.77" y2="607.10" stroke="#444444" stroke-width="1.1"/>
<line x1="160.00" y1="392.80" x2="251.60" y2="392.80" stroke="#555555" stroke-width="1.0"/>
<line x1="160.00" y1="462.30" x2="251.60" y2="462.30" stroke="#555555" stroke-width="1.0"/>
<line x1="160.00" y1="534.20" x2="251.60" y2="534.20" stroke="#555555" stroke-width="1.0"/>
<line x1="283.00" y1="392.60" x2="416.00" y2="392.60" stroke="#555555" stroke-width="1.0"/>
<line x1="283.00" y1="462.20" x2="416.00" y2="462.20" stroke="#555555" stroke-width="1.0"/>
<line x1="283.00" y1="533.50" x2="416.00" y2="533.50" stroke="#555555" stroke-width="1.0"/>
<line x1="445.30" y1="393.00" x2="603.30" y2="393.00" stroke="#555555" stroke-width="1.0"/>
<line x1="445.30" y1="462.80" x2="603.30" y2="462.80" stroke="#555555" stroke-width="1.0"/>
<line x1="445.30" y1="534.20" x2="603.30" y2="534.20" stroke="#555555" stroke-width="1.0"/>
<line x1="162.80" y1="325.80" x2="604.00" y2="325.80" stroke="#1a1a1a" stroke-width="1.4"/>
<line x1="163.50" y1="325.80" x2="163.50" y2="608.40" stroke="#1a1a1a" stroke-width="1.4"/>
<line x1="286.50" y1="325.80" x2="286.50" y2="608.40" stroke="#1a1a1a" stroke-width="1.4"/>
<line x1="448.80" y1="325.80" x2="448.80" y2="608.40" stroke="#1a1a1a" stroke-width="1.4"/>
<line x1="603.30" y1="325.80" x2="603.30" y2="604.60" stroke="#1a1a1a" stroke-width="1.4"/>
<line x1="162.80" y1="603.90" x2="604.00" y2="603.90" stroke="#1a1a1a" stroke-width="1.4"/>
<line x1="180.30" y1="362.70" x2="180.30" y2="603.90" stroke="#000" stroke-width="1.3"/>
<line x1="213.30" y1="362.70" x2="213.30" y2="603.90" stroke="#000" stroke-width="1.3"/>
<line x1="298.80" y1="362.40" x2="298.80" y2="603.90" stroke="#000" stroke-width="1.3"/>
<line x1="332.30" y1="362.40" x2="332.30" y2="603.90" stroke="#000" stroke-width="1.3"/>
<line x1="472.60" y1="363.90" x2="472.60" y2="603.90" stroke="#000" stroke-width="1.3"/>
<line x1="505.90" y1="363.90" x2="505.90" y2="603.90" stroke="#000" stroke-width="1.3"/>
<line x1="261.30" y1="613.90" x2="266.90" y2="593.50" stroke="#000" stroke-width="1.4"/>
<line x1="265.80" y1="613.90" x2="271.50" y2="593.50" stroke="#000" stroke-width="1.4"/>
<line x1="425.20" y1="613.60" x2="430.70" y2="593.20" stroke="#000" stroke-width="1.4"/>
<line x1="429.80" y1="613.60" x2="435.40" y2="593.20" stroke="#000" stroke-width="1.4"/>
<text x="21.00" y="59.80" font-size="15.36" fill="#ff0000" stroke="#ff0000" stroke-width="0.02" letter-spacing="0.00" textLength="68.00" lengthAdjust="spacingAndGlyphs" xml:space="preserve"><tspan>Al-etched</tspan></text>
<text x="1.50" y="137.30" font-size="15.51" fill="#e46c0a" stroke="#e46c0a" stroke-width="0.25" letter-spacing="0.93" textLength="102.00" lengthAdjust="spacingAndGlyphs" xml:space="preserve"><tspan>Cf8-C2-COOH</tspan></text>
<text x="10.00" y="159.00" font-size="15.51" fill="#e46c0a" stroke="#e46c0a" stroke-width="0.25" letter-spacing="0.93" textLength="86.00" lengthAdjust="spacingAndGlyphs" xml:space="preserve"><tspan>(m/z = 492)</tspan></text>
<text x="5.00" y="236.80" font-size="15.80" fill="#953735" stroke="#953735" stroke-width="0.25" letter-spacing="0.95" textLength="101.50" lengthAdjust="spacingAndGlyphs" xml:space="preserve"><tspan>Cf8-C3-COOH</tspan></text>
<text x="12.00" y="258.50" font-size="15.80" fill="#953735" stroke="#953735" stroke-width="0.25" letter-spacing="0.95" textLength="87.00" lengthAdjust="spacingAndGlyphs" xml:space="preserve"><tspan>(m/z = 506)</tspan></text>
<text x="168.00" y="18.80" font-size="16.09" fill="#e46c0a" stroke="#e46c0a" stroke-width="0.25" letter-spacing="0.97" textLength="124.00" lengthAdjust="spacingAndGlyphs" xml:space="preserve"><tspan>C</tspan><tspan dy="4.83" font-size="12.07">8</tspan><tspan dy="-4.83" font-size="16.09">F</tspan><tspan dy="4.83" font-size="12.07">17</tspan><tspan dy="-4.83" font-size="16.09">-C</tspan><tspan dy="4.83" font-size="12.07">2</tspan><tspan dy="-4.83" font-size="16.09">H</tspan><tspan dy="4.83" font-size="12.07">4</tspan><tspan dy="-4.83" font-size="16.09">-COO-</tspan></text>
<text x="303.00" y="17.80" font-size="15.51" fill="#953735" stroke="#953735" stroke-width="0.25" letter-spacing="0.93" textLength="121.50" lengthAdjust="spacingAndGlyphs" xml:space="preserve"><tspan>C</tspan><tspan dy="4.65" font-size="11.63">8</tspan><tspan dy="-4.65" font-size="15.51">F</tspan><tspan dy="4.65" font-size="11.63">17</tspan><tspan dy="-4.65" font-size="15.51">-C</tspan><tspan dy="4.65" font-size="11.63">3</tspan><tspan dy="-4.65" font-size="15.51">H</tspan><tspan dy="4.65" font-size="11.63">6</tspan><tspan dy="-4.65" font-size="15.51">-COO</tspan><tspan dy="-4.65" font-size="11.63">-</tspan></text>
<text x="180.50" y="300.00" font-size="11.16" fill="#404040" stroke="#404040" stroke-width="0.25" letter-spacing="0.67" textLength="27.50" lengthAdjust="spacingAndGlyphs" xml:space="preserve"><tspan>491.0</tspan></text>
<text x="229.00" y="300.00" font-size="11.16" fill="#404040" stroke="#404040" stroke-width="0.25" letter-spacing="0.67" textLength="27.50" lengthAdjust="spacingAndGlyphs" xml:space="preserve"><tspan>491.5</tspan></text>
<text x="297.50" y="299.90" font-size="10.72" fill="#404040" stroke="#404040" stroke-width="0.25" letter-spacing="0.64" textLength="18.00" lengthAdjust="spacingAndGlyphs" xml:space="preserve"><tspan>504</tspan></text>
<text x="327.00" y="299.90" font-size="10.72" fill="#404040" stroke="#404040" stroke-width="0.25" letter-spacing="0.64" textLength="17.00" lengthAdjust="spacingAndGlyphs" xml:space="preserve"><tspan>505</tspan></text>
<text x="246.50" y="321.60" font-size="19.25" fill="#000" stroke="#000" stroke-width="0.25" letter-spacing="1.15" textLength="34.00" lengthAdjust="spacingAndGlyphs" xml:space="preserve"><tspan>m/z</tspan></text>
<text x="368.00" y="280.50" font-size="20.94" fill="#000" stroke="#000" stroke-width="0.25" letter-spacing="1.26" textLength="17.00" lengthAdjust="spacingAndGlyphs" xml:space="preserve"><tspan>a)</tspan></text>
<text x="13.50" y="378.40" font-size="16.09" fill="#ff0000" stroke="#ff0000" stroke-width="0.02" letter-spacing="0.00" textLength="67.50" lengthAdjust="spacingAndGlyphs" xml:space="preserve"><tspan>Al-etched</tspan></text>
<text x="2.50" y="427.00" font-size="15.94" fill="#3219b4" stroke="#3219b4" stroke-width="0.25" letter-spacing="0.96" textLength="90.00" lengthAdjust="spacingAndGlyphs" xml:space="preserve"><tspan>Cf8-C3-ImiH</tspan></text>
<text x="4.00" y="450.10" font-size="15.94" fill="#3219b4" stroke="#3219b4" stroke-width="0.25" letter-spacing="0.96" textLength="86.50" lengthAdjust="spacingAndGlyphs" xml:space="preserve"><tspan>(m/z = 528)</tspan></text>
<text x="14.50" y="499.70" font-size="16.38" fill="#00b0f0" stroke="#00b0f0" stroke-width="0.25" letter-spacing="0.98" textLength="78.00" lengthAdjust="spacingAndGlyphs" xml:space="preserve"><tspan>Cf8-C2-SH</tspan></text>
<text x="10.00" y="521.50" font-size="15.22" fill="#00b0f0" stroke="#00b0f0" stroke-width="0.25" letter-spacing="0.91" textLength="87.00" lengthAdjust="spacingAndGlyphs" xml:space="preserve"><tspan>(m/z = 480)</tspan></text>
<text x="12.50" y="571.20" font-size="15.22" fill="#868686" stroke="#868686" stroke-width="0.25" letter-spacing="0.91" textLength="76.00" lengthAdjust="spacingAndGlyphs" xml:space="preserve"><tspan>Cf8-C3-SH</tspan></text>
<text x="8.00" y="593.20" font-size="15.94" fill="#868686" stroke="#868686" stroke-width="0.25" letter-spacing="0.96" textLength="87.50" lengthAdjust="spacingAndGlyphs" xml:space="preserve"><tspan>(m/z = 494)</tspan></text>
<text x="176.50" y="348.50" font-size="15.94" fill="#1f3864" stroke="#1f3864" stroke-width="0.25" letter-spacing="0.96" textLength="57.50" lengthAdjust="spacingAndGlyphs" xml:space="preserve"><tspan>C</tspan><tspan dy="4.78" font-size="11.96">3</tspan><tspan dy="-4.78" font-size="15.94">N</tspan><tspan dy="4.78" font-size="11.96">2</tspan><tspan dy="-4.78" font-size="15.94">H</tspan><tspan dy="4.78" font-size="11.96">3</tspan><tspan dy="-9.57" font-size="11.96">-</tspan></text>
<text x="297.50" y="350.50" font-size="16.38" fill="#00b0f0" stroke="#00b0f0" stroke-width="0.25" letter-spacing="0.98" textLength="103.00" lengthAdjust="spacingAndGlyphs" xml:space="preserve"><tspan>C</tspan><tspan dy="4.91" font-size="12.28">8</tspan><tspan dy="-4.91" font-size="16.38">F</tspan><tspan dy="4.91" font-size="12.28">17</tspan><tspan dy="-4.91" font-size="16.38">-C</tspan><tspan dy="4.91" font-size="12.28">2</tspan><tspan dy="-4.91" font-size="16.38">H</tspan><tspan dy="4.91" font-size="12.28">4</tspan><tspan dy="-4.91" font-size="16.38">-SH</tspan></text>
<text x="459.00" y="350.90" font-size="16.96" fill="#868686" stroke="#868686" stroke-width="0.25" letter-spacing="1.02" textLength="104.50" lengthAdjust="spacingAndGlyphs" xml:space="preserve"><tspan>C</tspan><tspan dy="5.09" font-size="12.72">8</tspan><tspan dy="-5.09" font-size="16.96">F</tspan><tspan dy="5.09" font-size="12.72">17</tspan><tspan dy="-5.09" font-size="16.96">-C</tspan><tspan dy="5.09" font-size="12.72">3</tspan><tspan dy="-5.09" font-size="16.96">H</tspan><tspan dy="5.09" font-size="12.72">6</tspan><tspan dy="-5.09" font-size="16.96">-SH</tspan></text>
<text x="166.00" y="623.80" font-size="10.58" fill="#404040" stroke="#404040" stroke-width="0.25" letter-spacing="0.63" textLength="22.00" lengthAdjust="spacingAndGlyphs" xml:space="preserve"><tspan>67.0</tspan></text>
<text x="230.00" y="623.80" font-size="10.58" fill="#404040" stroke="#404040" stroke-width="0.25" letter-spacing="0.63" textLength="21.00" lengthAdjust="spacingAndGlyphs" xml:space="preserve"><tspan>67.1</tspan></text>
<text x="301.00" y="623.50" font-size="11.16" fill="#404040" stroke="#404040" stroke-width="0.25" letter-spacing="0.67" textLength="28.50" lengthAdjust="spacingAndGlyphs" xml:space="preserve"><tspan>479.0</tspan></text>
<text x="389.00" y="623.50" font-size="11.16" fill="#404040" stroke="#404040" stroke-width="0.25" letter-spacing="0.67" textLength="27.50" lengthAdjust="spacingAndGlyphs" xml:space="preserve"><tspan>479.5</tspan></text>
<text x="478.50" y="624.00" font-size="11.01" fill="#404040" stroke="#404040" stroke-width="0.25" letter-spacing="0.66" textLength="28.50" lengthAdjust="spacingAndGlyphs" xml:space="preserve"><tspan>493.0</tspan></text>
<text x="578.00" y="624.00" font-size="11.01" fill="#404040" stroke="#404040" stroke-width="0.25" letter-spacing="0.66" textLength="26.50" lengthAdjust="spacingAndGlyphs" xml:space="preserve"><tspan>493.5</tspan></text>
<text x="347.00" y="627.80" font-size="20.00" fill="#000" stroke="#000" stroke-width="0.25" letter-spacing="1.20" textLength="34.00" lengthAdjust="spacingAndGlyphs" xml:space="preserve"><tspan>m/z</tspan></text>
<text x="620.50" y="594.00" font-size="19.45" fill="#000" stroke="#000" stroke-width="0.25" letter-spacing="1.17" textLength="16.50" lengthAdjust="spacingAndGlyphs" xml:space="preserve"><tspan>b)</tspan></text>
<text x="148.20" y="266.50" font-size="19.71" fill="#000" stroke="#000" stroke-width="0.12" letter-spacing="1.18" textLength="248.50" lengthAdjust="spacingAndGlyphs" transform="rotate(-90 148.20 266.50)" xml:space="preserve"><tspan>Intensity (normalized counts)</tspan></text>
<text x="147.50" y="623.00" font-size="19.28" fill="#000" stroke="#000" stroke-width="0.12" letter-spacing="1.16" textLength="248.50" lengthAdjust="spacingAndGlyphs" transform="rotate(-90 147.50 623.00)" xml:space="preserve"><tspan>Intensity (normalized counts)</tspan></text>
</svg></body></html>
